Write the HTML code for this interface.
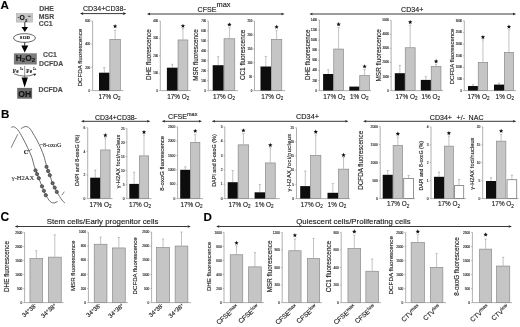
<!DOCTYPE html>
<html><head><meta charset="utf-8"><style>
html,body{margin:0;padding:0;background:#fff;width:520px;height:327px;overflow:hidden;}
svg{display:block;filter:grayscale(100%);}
text{stroke:rgba(20,20,20,0.55);stroke-width:0.22px;}
</style></head><body>
<svg width="520" height="327" viewBox="0 0 520 327">
<rect width="520" height="327" fill="#fff"/>
<text x="0.60" y="9.00" font-size="11.6" text-anchor="start" fill="#000" font-weight="bold" font-family='"Liberation Sans", sans-serif' >A</text>
<text x="1.00" y="118.40" font-size="11.6" text-anchor="start" fill="#000" font-weight="bold" font-family='"Liberation Sans", sans-serif' >B</text>
<text x="0.60" y="221.30" font-size="12.0" text-anchor="start" fill="#000" font-weight="bold" font-family='"Liberation Sans", sans-serif' >C</text>
<text x="203.60" y="221.00" font-size="11.6" text-anchor="start" fill="#000" font-weight="bold" font-family='"Liberation Sans", sans-serif' >D</text>
<rect x="16.3" y="13.6" width="16.3" height="8.5" fill="#c6c6c6" stroke="#a8a8a8" stroke-width="0.5"/>
<rect x="17.8" y="17.0" width="1.2" height="0.8" fill="#333"/>
<text x="19.45" y="20.0" font-size="6.8" font-weight="bold" fill="#0a0a0a" font-family='"Liberation Sans", sans-serif'>O</text>
<text x="24.9" y="21.6" font-size="4.2" font-weight="bold" fill="#111" font-family='"Liberation Sans", sans-serif'>2</text>
<line x1="28.10" y1="16.30" x2="30.60" y2="16.30" stroke="#333" stroke-width="0.9"/>
<line x1="24.80" y1="22.10" x2="24.80" y2="27.50" stroke="#333" stroke-width="1.0"/>
<polygon points="21.5,27.0 28.0,27.0 24.8,32.0" fill="#000"/>
<ellipse cx="24.5" cy="38.0" rx="11.0" ry="4.35" fill="#fff" stroke="#333" stroke-width="0.75"/>
<text x="25.0" y="39.0" font-size="4.7" text-anchor="middle" fill="#111" font-weight="bold" font-family='"Liberation Serif", serif' letter-spacing="0.3">SOD</text>
<line x1="24.70" y1="42.10" x2="24.70" y2="46.20" stroke="#333" stroke-width="1.0"/>
<polygon points="21.3,45.6 28.3,45.6 24.7,52.4" fill="#000"/>
<rect x="13.9" y="53.3" width="22.9" height="11.2" fill="#7c7c7c"/>
<text x="25.4" y="61.0" font-size="8.4" text-anchor="middle" font-weight="bold" fill="#1a1a1a" font-family='"Liberation Sans", sans-serif'>H<tspan font-size="6.2" dy="1.2">2</tspan><tspan dy="-1.2">O</tspan><tspan font-size="6.2" dy="1.2">2</tspan></text>
<line x1="24.70" y1="66.00" x2="24.70" y2="78.50" stroke="#8a8a8a" stroke-width="0.9"/>
<text x="12.8" y="72.6" font-size="5.2" fill="#222" font-family='"Liberation Serif", serif' font-weight="bold" letter-spacing="0.4">Fe</text>
<text x="19.9" y="70.0" font-size="3.0" fill="#222" font-family='"Liberation Serif", serif' font-weight="bold">3+</text>
<text x="26.2" y="72.6" font-size="5.2" fill="#222" font-family='"Liberation Serif", serif' font-weight="bold" letter-spacing="0.4">Fe</text>
<text x="33.0" y="70.0" font-size="3.0" fill="#222" font-family='"Liberation Serif", serif' font-weight="bold">2+</text>
<path d="M14.3,73.9 Q24.7,78.2 34.6,74.3" fill="none" stroke="#333" stroke-width="0.7"/>
<polygon points="36.4,73.8 33.4,73.8 34.6,75.9" fill="#222"/>
<polygon points="21.6,77.6 27.9,77.6 24.6,87.4" fill="#000"/>
<rect x="17.2" y="87.9" width="14.9" height="10.8" fill="#6a6a6a"/>
<text x="24.65" y="96.6" font-size="8.6" text-anchor="middle" font-weight="bold" fill="#111" font-family='"Liberation Sans", sans-serif'>OH</text>
<text x="39.20" y="11.20" font-size="6.9" text-anchor="start" fill="#555" font-weight="bold" font-family='"Liberation Sans", sans-serif' >DHE</text>
<text x="38.80" y="18.60" font-size="6.9" text-anchor="start" fill="#555" font-weight="bold" font-family='"Liberation Sans", sans-serif' >MSR</text>
<text x="38.80" y="26.20" font-size="6.9" text-anchor="start" fill="#555" font-weight="bold" font-family='"Liberation Sans", sans-serif' >CC1</text>
<text x="43.00" y="57.40" font-size="6.9" text-anchor="start" fill="#555" font-weight="bold" font-family='"Liberation Sans", sans-serif' >CC1</text>
<text x="39.00" y="65.60" font-size="6.9" text-anchor="start" fill="#555" font-weight="bold" font-family='"Liberation Sans", sans-serif' >DCFDA</text>
<text x="38.60" y="92.40" font-size="6.9" text-anchor="start" fill="#555" font-weight="bold" font-family='"Liberation Sans", sans-serif' >DCFDA</text>
<text x="104.40" y="10.90" font-size="7.1" text-anchor="middle" fill="#1a1a1a" font-weight="normal" font-family='"Liberation Sans", sans-serif' >CD34+CD38-</text>
<line x1="83.20" y1="13.60" x2="123.10" y2="13.60" stroke="#222" stroke-width="0.9"/>
<polygon points="80.00,13.60 83.20,12.30 83.20,14.90" fill="#222"/>
<polygon points="126.30,13.60 123.10,12.30 123.10,14.90" fill="#222"/>
<text x="197.6" y="11.8" font-size="7.1" fill="#1a1a1a" font-family='"Liberation Sans", sans-serif'>CFSE<tspan font-size="7.4" dy="-4.4">max</tspan></text>
<line x1="150.00" y1="14.00" x2="281.40" y2="14.00" stroke="#222" stroke-width="0.9"/>
<polygon points="146.80,14.00 150.00,12.70 150.00,15.30" fill="#222"/>
<polygon points="284.60,14.00 281.40,12.70 281.40,15.30" fill="#222"/>
<text x="412.20" y="12.10" font-size="7.1" text-anchor="middle" fill="#1a1a1a" font-weight="normal" font-family='"Liberation Sans", sans-serif' >CD34+</text>
<line x1="312.50" y1="14.00" x2="513.00" y2="14.00" stroke="#222" stroke-width="0.9"/>
<polygon points="309.30,14.00 312.50,12.70 312.50,15.30" fill="#222"/>
<polygon points="516.20,14.00 513.00,12.70 513.00,15.30" fill="#222"/>
<line x1="92.60" y1="21.00" x2="92.60" y2="90.60" stroke="#8f8f8f" stroke-width="0.7"/>
<line x1="92.60" y1="90.60" x2="123.50" y2="90.60" stroke="#8f8f8f" stroke-width="0.7"/>
<line x1="91.30" y1="90.60" x2="92.60" y2="90.60" stroke="#8f8f8f" stroke-width="0.6"/>
<text x="90.30" y="91.72" font-size="3.1" text-anchor="end" fill="#333" font-weight="normal" font-family='"Liberation Sans", sans-serif' >0</text>
<line x1="91.30" y1="67.40" x2="92.60" y2="67.40" stroke="#8f8f8f" stroke-width="0.6"/>
<text x="90.30" y="68.52" font-size="3.1" text-anchor="end" fill="#333" font-weight="normal" font-family='"Liberation Sans", sans-serif' >200</text>
<line x1="91.30" y1="44.20" x2="92.60" y2="44.20" stroke="#8f8f8f" stroke-width="0.6"/>
<text x="90.30" y="45.32" font-size="3.1" text-anchor="end" fill="#333" font-weight="normal" font-family='"Liberation Sans", sans-serif' >400</text>
<line x1="91.30" y1="21.00" x2="92.60" y2="21.00" stroke="#8f8f8f" stroke-width="0.6"/>
<text x="90.30" y="22.12" font-size="3.1" text-anchor="end" fill="#333" font-weight="normal" font-family='"Liberation Sans", sans-serif' >600</text>
<line x1="104.25" y1="67.60" x2="104.25" y2="72.70" stroke="#9a9a9a" stroke-width="0.6"/>
<line x1="103.15" y1="67.60" x2="105.35" y2="67.60" stroke="#9a9a9a" stroke-width="0.6"/>
<rect x="99.00" y="72.70" width="10.50" height="17.90" fill="#0d0d0d"/>
<line x1="115.10" y1="30.20" x2="115.10" y2="39.00" stroke="#9a9a9a" stroke-width="0.6"/>
<line x1="114.00" y1="30.20" x2="116.20" y2="30.20" stroke="#9a9a9a" stroke-width="0.6"/>
<rect x="109.85" y="39.35" width="10.50" height="51.25" fill="#c5c5c5" stroke="#8a8a8a" stroke-width="0.7"/>
<polygon points="115.10,24.00 115.71,25.46 117.29,25.59 116.08,26.62 116.45,28.16 115.10,27.34 113.75,28.16 114.12,26.62 112.91,25.59 114.49,25.46" fill="#111"/>
<text transform="translate(82.25,57.61) rotate(-90)" font-size="6.19" text-anchor="middle" fill="#1a1a1a" font-family='"Liberation Sans", sans-serif'>DCFDA fluorescence</text>
<text x="98.50" y="98.60" font-size="6.4" fill="#1a1a1a" font-family='"Liberation Sans", sans-serif'>17% O<tspan font-size="4.61" dy="1.6">2</tspan></text>
<line x1="160.30" y1="21.00" x2="160.30" y2="90.60" stroke="#8f8f8f" stroke-width="0.7"/>
<line x1="160.30" y1="90.60" x2="191.00" y2="90.60" stroke="#8f8f8f" stroke-width="0.7"/>
<line x1="159.00" y1="90.60" x2="160.30" y2="90.60" stroke="#8f8f8f" stroke-width="0.6"/>
<text x="158.00" y="91.61" font-size="2.8" text-anchor="end" fill="#333" font-weight="normal" font-family='"Liberation Sans", sans-serif' >0</text>
<line x1="159.00" y1="73.20" x2="160.30" y2="73.20" stroke="#8f8f8f" stroke-width="0.6"/>
<text x="158.00" y="74.21" font-size="2.8" text-anchor="end" fill="#333" font-weight="normal" font-family='"Liberation Sans", sans-serif' >100</text>
<line x1="159.00" y1="55.80" x2="160.30" y2="55.80" stroke="#8f8f8f" stroke-width="0.6"/>
<text x="158.00" y="56.81" font-size="2.8" text-anchor="end" fill="#333" font-weight="normal" font-family='"Liberation Sans", sans-serif' >200</text>
<line x1="159.00" y1="38.40" x2="160.30" y2="38.40" stroke="#8f8f8f" stroke-width="0.6"/>
<text x="158.00" y="39.41" font-size="2.8" text-anchor="end" fill="#333" font-weight="normal" font-family='"Liberation Sans", sans-serif' >300</text>
<line x1="159.00" y1="21.00" x2="160.30" y2="21.00" stroke="#8f8f8f" stroke-width="0.6"/>
<text x="158.00" y="22.01" font-size="2.8" text-anchor="end" fill="#333" font-weight="normal" font-family='"Liberation Sans", sans-serif' >400</text>
<line x1="172.30" y1="64.30" x2="172.30" y2="67.70" stroke="#9a9a9a" stroke-width="0.6"/>
<line x1="171.20" y1="64.30" x2="173.40" y2="64.30" stroke="#9a9a9a" stroke-width="0.6"/>
<rect x="166.90" y="67.70" width="10.80" height="22.90" fill="#0d0d0d"/>
<line x1="182.95" y1="28.60" x2="182.95" y2="39.60" stroke="#9a9a9a" stroke-width="0.6"/>
<line x1="181.85" y1="28.60" x2="184.05" y2="28.60" stroke="#9a9a9a" stroke-width="0.6"/>
<rect x="178.05" y="39.95" width="9.80" height="50.65" fill="#c5c5c5" stroke="#8a8a8a" stroke-width="0.7"/>
<polygon points="182.95,23.70 183.56,25.16 185.14,25.29 183.93,26.32 184.30,27.86 182.95,27.04 181.60,27.86 181.97,26.32 180.76,25.29 182.34,25.16" fill="#111"/>
<text transform="translate(150.75,54.65) rotate(-90)" font-size="6.32" text-anchor="middle" fill="#1a1a1a" font-family='"Liberation Sans", sans-serif'>DHE fluorescence</text>
<text x="167.20" y="98.60" font-size="6.4" fill="#1a1a1a" font-family='"Liberation Sans", sans-serif'>17% O<tspan font-size="4.61" dy="1.6">2</tspan></text>
<line x1="208.30" y1="21.00" x2="208.30" y2="90.60" stroke="#8f8f8f" stroke-width="0.7"/>
<line x1="208.30" y1="90.60" x2="238.00" y2="90.60" stroke="#8f8f8f" stroke-width="0.7"/>
<line x1="207.00" y1="90.60" x2="208.30" y2="90.60" stroke="#8f8f8f" stroke-width="0.6"/>
<text x="206.00" y="91.61" font-size="2.8" text-anchor="end" fill="#333" font-weight="normal" font-family='"Liberation Sans", sans-serif' >0</text>
<line x1="207.00" y1="80.66" x2="208.30" y2="80.66" stroke="#8f8f8f" stroke-width="0.6"/>
<text x="206.00" y="81.67" font-size="2.8" text-anchor="end" fill="#333" font-weight="normal" font-family='"Liberation Sans", sans-serif' >100</text>
<line x1="207.00" y1="70.71" x2="208.30" y2="70.71" stroke="#8f8f8f" stroke-width="0.6"/>
<text x="206.00" y="71.72" font-size="2.8" text-anchor="end" fill="#333" font-weight="normal" font-family='"Liberation Sans", sans-serif' >200</text>
<line x1="207.00" y1="60.77" x2="208.30" y2="60.77" stroke="#8f8f8f" stroke-width="0.6"/>
<text x="206.00" y="61.78" font-size="2.8" text-anchor="end" fill="#333" font-weight="normal" font-family='"Liberation Sans", sans-serif' >300</text>
<line x1="207.00" y1="50.83" x2="208.30" y2="50.83" stroke="#8f8f8f" stroke-width="0.6"/>
<text x="206.00" y="51.84" font-size="2.8" text-anchor="end" fill="#333" font-weight="normal" font-family='"Liberation Sans", sans-serif' >400</text>
<line x1="207.00" y1="40.89" x2="208.30" y2="40.89" stroke="#8f8f8f" stroke-width="0.6"/>
<text x="206.00" y="41.89" font-size="2.8" text-anchor="end" fill="#333" font-weight="normal" font-family='"Liberation Sans", sans-serif' >500</text>
<line x1="207.00" y1="30.94" x2="208.30" y2="30.94" stroke="#8f8f8f" stroke-width="0.6"/>
<text x="206.00" y="31.95" font-size="2.8" text-anchor="end" fill="#333" font-weight="normal" font-family='"Liberation Sans", sans-serif' >600</text>
<line x1="207.00" y1="21.00" x2="208.30" y2="21.00" stroke="#8f8f8f" stroke-width="0.6"/>
<text x="206.00" y="22.01" font-size="2.8" text-anchor="end" fill="#333" font-weight="normal" font-family='"Liberation Sans", sans-serif' >700</text>
<line x1="218.20" y1="56.70" x2="218.20" y2="65.20" stroke="#9a9a9a" stroke-width="0.6"/>
<line x1="217.10" y1="56.70" x2="219.30" y2="56.70" stroke="#9a9a9a" stroke-width="0.6"/>
<rect x="212.70" y="65.20" width="11.00" height="25.40" fill="#0d0d0d"/>
<line x1="229.40" y1="27.80" x2="229.40" y2="38.40" stroke="#9a9a9a" stroke-width="0.6"/>
<line x1="228.30" y1="27.80" x2="230.50" y2="27.80" stroke="#9a9a9a" stroke-width="0.6"/>
<rect x="224.05" y="38.75" width="10.70" height="51.85" fill="#c5c5c5" stroke="#8a8a8a" stroke-width="0.7"/>
<polygon points="229.40,22.40 230.01,23.86 231.59,23.99 230.38,25.02 230.75,26.56 229.40,25.73 228.05,26.56 228.42,25.02 227.21,23.99 228.79,23.86" fill="#111"/>
<text transform="translate(198.25,55.00) rotate(-90)" font-size="6.32" text-anchor="middle" fill="#1a1a1a" font-family='"Liberation Sans", sans-serif'>MSR fluorescence</text>
<text x="212.90" y="98.60" font-size="6.4" fill="#1a1a1a" font-family='"Liberation Sans", sans-serif'>17% O<tspan font-size="4.61" dy="1.6">2</tspan></text>
<line x1="254.50" y1="21.00" x2="254.50" y2="90.60" stroke="#8f8f8f" stroke-width="0.7"/>
<line x1="254.50" y1="90.60" x2="285.00" y2="90.60" stroke="#8f8f8f" stroke-width="0.7"/>
<line x1="253.20" y1="90.60" x2="254.50" y2="90.60" stroke="#8f8f8f" stroke-width="0.6"/>
<text x="252.20" y="91.61" font-size="2.8" text-anchor="end" fill="#333" font-weight="normal" font-family='"Liberation Sans", sans-serif' >0</text>
<line x1="253.20" y1="76.68" x2="254.50" y2="76.68" stroke="#8f8f8f" stroke-width="0.6"/>
<text x="252.20" y="77.69" font-size="2.8" text-anchor="end" fill="#333" font-weight="normal" font-family='"Liberation Sans", sans-serif' >50</text>
<line x1="253.20" y1="62.76" x2="254.50" y2="62.76" stroke="#8f8f8f" stroke-width="0.6"/>
<text x="252.20" y="63.77" font-size="2.8" text-anchor="end" fill="#333" font-weight="normal" font-family='"Liberation Sans", sans-serif' >100</text>
<line x1="253.20" y1="48.84" x2="254.50" y2="48.84" stroke="#8f8f8f" stroke-width="0.6"/>
<text x="252.20" y="49.85" font-size="2.8" text-anchor="end" fill="#333" font-weight="normal" font-family='"Liberation Sans", sans-serif' >150</text>
<line x1="253.20" y1="34.92" x2="254.50" y2="34.92" stroke="#8f8f8f" stroke-width="0.6"/>
<text x="252.20" y="35.93" font-size="2.8" text-anchor="end" fill="#333" font-weight="normal" font-family='"Liberation Sans", sans-serif' >200</text>
<line x1="253.20" y1="21.00" x2="254.50" y2="21.00" stroke="#8f8f8f" stroke-width="0.6"/>
<text x="252.20" y="22.01" font-size="2.8" text-anchor="end" fill="#333" font-weight="normal" font-family='"Liberation Sans", sans-serif' >250</text>
<line x1="265.80" y1="56.40" x2="265.80" y2="66.50" stroke="#9a9a9a" stroke-width="0.6"/>
<line x1="264.70" y1="56.40" x2="266.90" y2="56.40" stroke="#9a9a9a" stroke-width="0.6"/>
<rect x="260.50" y="66.50" width="10.60" height="24.10" fill="#0d0d0d"/>
<line x1="276.60" y1="30.30" x2="276.60" y2="39.00" stroke="#9a9a9a" stroke-width="0.6"/>
<line x1="275.50" y1="30.30" x2="277.70" y2="30.30" stroke="#9a9a9a" stroke-width="0.6"/>
<rect x="271.45" y="39.35" width="10.30" height="51.25" fill="#c5c5c5" stroke="#8a8a8a" stroke-width="0.7"/>
<polygon points="276.60,24.70 277.21,26.16 278.79,26.29 277.58,27.32 277.95,28.86 276.60,28.04 275.25,28.86 275.62,27.32 274.41,26.29 275.99,26.16" fill="#111"/>
<text transform="translate(244.75,54.86) rotate(-90)" font-size="6.35" text-anchor="middle" fill="#1a1a1a" font-family='"Liberation Sans", sans-serif'>CC1 fluorescence</text>
<text x="261.20" y="98.60" font-size="6.4" fill="#1a1a1a" font-family='"Liberation Sans", sans-serif'>17% O<tspan font-size="4.61" dy="1.6">2</tspan></text>
<line x1="319.40" y1="20.00" x2="319.40" y2="90.60" stroke="#8f8f8f" stroke-width="0.7"/>
<line x1="319.40" y1="90.60" x2="371.00" y2="90.60" stroke="#8f8f8f" stroke-width="0.7"/>
<line x1="318.10" y1="90.60" x2="319.40" y2="90.60" stroke="#8f8f8f" stroke-width="0.6"/>
<text x="317.10" y="91.61" font-size="2.8" text-anchor="end" fill="#333" font-weight="normal" font-family='"Liberation Sans", sans-serif' >0</text>
<line x1="318.10" y1="80.51" x2="319.40" y2="80.51" stroke="#8f8f8f" stroke-width="0.6"/>
<text x="317.10" y="81.52" font-size="2.8" text-anchor="end" fill="#333" font-weight="normal" font-family='"Liberation Sans", sans-serif' >200</text>
<line x1="318.10" y1="70.43" x2="319.40" y2="70.43" stroke="#8f8f8f" stroke-width="0.6"/>
<text x="317.10" y="71.44" font-size="2.8" text-anchor="end" fill="#333" font-weight="normal" font-family='"Liberation Sans", sans-serif' >400</text>
<line x1="318.10" y1="60.34" x2="319.40" y2="60.34" stroke="#8f8f8f" stroke-width="0.6"/>
<text x="317.10" y="61.35" font-size="2.8" text-anchor="end" fill="#333" font-weight="normal" font-family='"Liberation Sans", sans-serif' >600</text>
<line x1="318.10" y1="50.26" x2="319.40" y2="50.26" stroke="#8f8f8f" stroke-width="0.6"/>
<text x="317.10" y="51.27" font-size="2.8" text-anchor="end" fill="#333" font-weight="normal" font-family='"Liberation Sans", sans-serif' >800</text>
<line x1="318.10" y1="40.17" x2="319.40" y2="40.17" stroke="#8f8f8f" stroke-width="0.6"/>
<text x="317.10" y="41.18" font-size="2.8" text-anchor="end" fill="#333" font-weight="normal" font-family='"Liberation Sans", sans-serif' >1000</text>
<line x1="318.10" y1="30.09" x2="319.40" y2="30.09" stroke="#8f8f8f" stroke-width="0.6"/>
<text x="317.10" y="31.09" font-size="2.8" text-anchor="end" fill="#333" font-weight="normal" font-family='"Liberation Sans", sans-serif' >1200</text>
<line x1="318.10" y1="20.00" x2="319.40" y2="20.00" stroke="#8f8f8f" stroke-width="0.6"/>
<text x="317.10" y="21.01" font-size="2.8" text-anchor="end" fill="#333" font-weight="normal" font-family='"Liberation Sans", sans-serif' >1400</text>
<line x1="328.25" y1="69.80" x2="328.25" y2="74.00" stroke="#9a9a9a" stroke-width="0.6"/>
<line x1="327.15" y1="69.80" x2="329.35" y2="69.80" stroke="#9a9a9a" stroke-width="0.6"/>
<rect x="323.10" y="74.00" width="10.30" height="16.60" fill="#0d0d0d"/>
<line x1="338.60" y1="27.70" x2="338.60" y2="48.70" stroke="#9a9a9a" stroke-width="0.6"/>
<line x1="337.50" y1="27.70" x2="339.70" y2="27.70" stroke="#9a9a9a" stroke-width="0.6"/>
<rect x="333.75" y="49.05" width="9.70" height="41.55" fill="#c5c5c5" stroke="#8a8a8a" stroke-width="0.7"/>
<polygon points="338.60,22.10 339.21,23.56 340.79,23.69 339.58,24.72 339.95,26.26 338.60,25.43 337.25,26.26 337.62,24.72 336.41,23.69 337.99,23.56" fill="#111"/>
<rect x="349.30" y="86.60" width="10.10" height="4.00" fill="#0d0d0d"/>
<line x1="364.60" y1="69.30" x2="364.60" y2="75.20" stroke="#9a9a9a" stroke-width="0.6"/>
<line x1="363.50" y1="69.30" x2="365.70" y2="69.30" stroke="#9a9a9a" stroke-width="0.6"/>
<rect x="359.75" y="75.55" width="9.70" height="15.05" fill="#c5c5c5" stroke="#8a8a8a" stroke-width="0.7"/>
<polygon points="364.60,64.20 365.21,65.66 366.79,65.79 365.58,66.82 365.95,68.36 364.60,67.53 363.25,68.36 363.62,66.82 362.41,65.79 363.99,65.66" fill="#111"/>
<text transform="translate(310.25,54.85) rotate(-90)" font-size="6.27" text-anchor="middle" fill="#1a1a1a" font-family='"Liberation Sans", sans-serif'>DHE fluorescence</text>
<text x="323.30" y="98.60" font-size="6.4" fill="#1a1a1a" font-family='"Liberation Sans", sans-serif'>17% O<tspan font-size="4.61" dy="1.6">2</tspan></text>
<text x="349.90" y="98.60" font-size="6.4" fill="#1a1a1a" font-family='"Liberation Sans", sans-serif'>1% O<tspan font-size="4.61" dy="1.6">2</tspan></text>
<line x1="391.10" y1="20.30" x2="391.10" y2="90.60" stroke="#8f8f8f" stroke-width="0.7"/>
<line x1="391.10" y1="90.60" x2="443.00" y2="90.60" stroke="#8f8f8f" stroke-width="0.7"/>
<line x1="389.80" y1="90.60" x2="391.10" y2="90.60" stroke="#8f8f8f" stroke-width="0.6"/>
<text x="388.80" y="91.61" font-size="2.8" text-anchor="end" fill="#333" font-weight="normal" font-family='"Liberation Sans", sans-serif' >0</text>
<line x1="389.80" y1="76.54" x2="391.10" y2="76.54" stroke="#8f8f8f" stroke-width="0.6"/>
<text x="388.80" y="77.55" font-size="2.8" text-anchor="end" fill="#333" font-weight="normal" font-family='"Liberation Sans", sans-serif' >1000</text>
<line x1="389.80" y1="62.48" x2="391.10" y2="62.48" stroke="#8f8f8f" stroke-width="0.6"/>
<text x="388.80" y="63.49" font-size="2.8" text-anchor="end" fill="#333" font-weight="normal" font-family='"Liberation Sans", sans-serif' >2000</text>
<line x1="389.80" y1="48.42" x2="391.10" y2="48.42" stroke="#8f8f8f" stroke-width="0.6"/>
<text x="388.80" y="49.43" font-size="2.8" text-anchor="end" fill="#333" font-weight="normal" font-family='"Liberation Sans", sans-serif' >3000</text>
<line x1="389.80" y1="34.36" x2="391.10" y2="34.36" stroke="#8f8f8f" stroke-width="0.6"/>
<text x="388.80" y="35.37" font-size="2.8" text-anchor="end" fill="#333" font-weight="normal" font-family='"Liberation Sans", sans-serif' >4000</text>
<line x1="389.80" y1="20.30" x2="391.10" y2="20.30" stroke="#8f8f8f" stroke-width="0.6"/>
<text x="388.80" y="21.31" font-size="2.8" text-anchor="end" fill="#333" font-weight="normal" font-family='"Liberation Sans", sans-serif' >5000</text>
<line x1="399.85" y1="65.50" x2="399.85" y2="73.20" stroke="#9a9a9a" stroke-width="0.6"/>
<line x1="398.75" y1="65.50" x2="400.95" y2="65.50" stroke="#9a9a9a" stroke-width="0.6"/>
<rect x="394.80" y="73.20" width="10.10" height="17.40" fill="#0d0d0d"/>
<line x1="410.20" y1="25.20" x2="410.20" y2="47.40" stroke="#9a9a9a" stroke-width="0.6"/>
<line x1="409.10" y1="25.20" x2="411.30" y2="25.20" stroke="#9a9a9a" stroke-width="0.6"/>
<rect x="405.25" y="47.75" width="9.90" height="42.85" fill="#c5c5c5" stroke="#8a8a8a" stroke-width="0.7"/>
<polygon points="410.20,19.90 410.81,21.36 412.39,21.49 411.18,22.52 411.55,24.06 410.20,23.23 408.85,24.06 409.22,22.52 408.01,21.49 409.59,21.36" fill="#111"/>
<line x1="425.85" y1="76.60" x2="425.85" y2="79.90" stroke="#9a9a9a" stroke-width="0.6"/>
<line x1="424.75" y1="76.60" x2="426.95" y2="76.60" stroke="#9a9a9a" stroke-width="0.6"/>
<rect x="420.80" y="79.90" width="10.10" height="10.70" fill="#0d0d0d"/>
<line x1="436.10" y1="64.30" x2="436.10" y2="66.00" stroke="#9a9a9a" stroke-width="0.6"/>
<line x1="435.00" y1="64.30" x2="437.20" y2="64.30" stroke="#9a9a9a" stroke-width="0.6"/>
<rect x="431.25" y="66.35" width="9.70" height="24.25" fill="#c5c5c5" stroke="#8a8a8a" stroke-width="0.7"/>
<polygon points="436.10,59.10 436.71,60.56 438.29,60.69 437.08,61.72 437.45,63.26 436.10,62.43 434.75,63.26 435.12,61.72 433.91,60.69 435.49,60.56" fill="#111"/>
<text transform="translate(380.75,55.35) rotate(-90)" font-size="6.40" text-anchor="middle" fill="#1a1a1a" font-family='"Liberation Sans", sans-serif'>MSR fluorescence</text>
<text x="395.50" y="98.60" font-size="6.4" fill="#1a1a1a" font-family='"Liberation Sans", sans-serif'>17% O<tspan font-size="4.61" dy="1.6">2</tspan></text>
<text x="421.50" y="98.60" font-size="6.4" fill="#1a1a1a" font-family='"Liberation Sans", sans-serif'>1% O<tspan font-size="4.61" dy="1.6">2</tspan></text>
<line x1="464.30" y1="20.80" x2="464.30" y2="90.60" stroke="#8f8f8f" stroke-width="0.7"/>
<line x1="464.30" y1="90.60" x2="516.00" y2="90.60" stroke="#8f8f8f" stroke-width="0.7"/>
<line x1="463.00" y1="90.60" x2="464.30" y2="90.60" stroke="#8f8f8f" stroke-width="0.6"/>
<text x="462.00" y="91.61" font-size="2.8" text-anchor="end" fill="#333" font-weight="normal" font-family='"Liberation Sans", sans-serif' >0</text>
<line x1="463.00" y1="78.97" x2="464.30" y2="78.97" stroke="#8f8f8f" stroke-width="0.6"/>
<text x="462.00" y="79.97" font-size="2.8" text-anchor="end" fill="#333" font-weight="normal" font-family='"Liberation Sans", sans-serif' >500</text>
<line x1="463.00" y1="67.33" x2="464.30" y2="67.33" stroke="#8f8f8f" stroke-width="0.6"/>
<text x="462.00" y="68.34" font-size="2.8" text-anchor="end" fill="#333" font-weight="normal" font-family='"Liberation Sans", sans-serif' >1000</text>
<line x1="463.00" y1="55.70" x2="464.30" y2="55.70" stroke="#8f8f8f" stroke-width="0.6"/>
<text x="462.00" y="56.71" font-size="2.8" text-anchor="end" fill="#333" font-weight="normal" font-family='"Liberation Sans", sans-serif' >1500</text>
<line x1="463.00" y1="44.07" x2="464.30" y2="44.07" stroke="#8f8f8f" stroke-width="0.6"/>
<text x="462.00" y="45.07" font-size="2.8" text-anchor="end" fill="#333" font-weight="normal" font-family='"Liberation Sans", sans-serif' >2000</text>
<line x1="463.00" y1="32.43" x2="464.30" y2="32.43" stroke="#8f8f8f" stroke-width="0.6"/>
<text x="462.00" y="33.44" font-size="2.8" text-anchor="end" fill="#333" font-weight="normal" font-family='"Liberation Sans", sans-serif' >2500</text>
<line x1="463.00" y1="20.80" x2="464.30" y2="20.80" stroke="#8f8f8f" stroke-width="0.6"/>
<text x="462.00" y="21.81" font-size="2.8" text-anchor="end" fill="#333" font-weight="normal" font-family='"Liberation Sans", sans-serif' >3000</text>
<line x1="472.95" y1="84.60" x2="472.95" y2="86.00" stroke="#9a9a9a" stroke-width="0.6"/>
<line x1="471.85" y1="84.60" x2="474.05" y2="84.60" stroke="#9a9a9a" stroke-width="0.6"/>
<rect x="468.00" y="86.00" width="9.90" height="4.60" fill="#0d0d0d"/>
<line x1="482.95" y1="39.80" x2="482.95" y2="62.10" stroke="#9a9a9a" stroke-width="0.6"/>
<line x1="481.85" y1="39.80" x2="484.05" y2="39.80" stroke="#9a9a9a" stroke-width="0.6"/>
<rect x="478.25" y="62.45" width="9.40" height="28.15" fill="#c5c5c5" stroke="#8a8a8a" stroke-width="0.7"/>
<polygon points="482.95,34.90 483.56,36.36 485.14,36.49 483.93,37.52 484.30,39.06 482.95,38.23 481.60,39.06 481.97,37.52 480.76,36.49 482.34,36.36" fill="#111"/>
<line x1="499.00" y1="83.20" x2="499.00" y2="84.60" stroke="#9a9a9a" stroke-width="0.6"/>
<line x1="497.90" y1="83.20" x2="500.10" y2="83.20" stroke="#9a9a9a" stroke-width="0.6"/>
<rect x="494.00" y="84.60" width="10.00" height="6.00" fill="#0d0d0d"/>
<line x1="508.95" y1="29.80" x2="508.95" y2="52.00" stroke="#9a9a9a" stroke-width="0.6"/>
<line x1="507.85" y1="29.80" x2="510.05" y2="29.80" stroke="#9a9a9a" stroke-width="0.6"/>
<rect x="504.35" y="52.35" width="9.20" height="38.25" fill="#c5c5c5" stroke="#8a8a8a" stroke-width="0.7"/>
<polygon points="508.95,24.50 509.56,25.96 511.14,26.09 509.93,27.12 510.30,28.66 508.95,27.84 507.60,28.66 507.97,27.12 506.76,26.09 508.34,25.96" fill="#111"/>
<text transform="translate(454.25,56.46) rotate(-90)" font-size="5.94" text-anchor="middle" fill="#1a1a1a" font-family='"Liberation Sans", sans-serif'>DCFDA fluorescence</text>
<text x="467.40" y="98.60" font-size="6.4" fill="#1a1a1a" font-family='"Liberation Sans", sans-serif'>17% O<tspan font-size="4.61" dy="1.6">2</tspan></text>
<text x="495.60" y="98.60" font-size="6.4" fill="#1a1a1a" font-family='"Liberation Sans", sans-serif'>1% O<tspan font-size="4.61" dy="1.6">2</tspan></text>
<path d="M11.10,127.60 C11.52,127.47 12.48,126.43 13.60,126.80 C14.72,127.17 16.28,127.95 17.80,129.80 C19.32,131.65 21.07,134.92 22.70,137.90 C24.33,140.88 26.07,144.43 27.60,147.70 C29.13,150.97 30.78,154.37 31.90,157.50 C33.02,160.63 33.45,163.78 34.30,166.50 C35.15,169.22 36.13,171.55 37.00,173.80 C37.87,176.05 38.67,177.88 39.50,180.00 C40.33,182.12 40.98,184.08 42.00,186.50 C43.02,188.92 44.65,192.55 45.60,194.50 C46.55,196.45 46.88,196.98 47.70,198.20 C48.52,199.42 49.45,201.00 50.50,201.80 C51.55,202.60 52.82,203.07 54.00,203.00 C55.18,202.93 57.00,201.67 57.60,201.40" fill="none" stroke="#4a4a4a" stroke-width="0.8"/>
<path d="M20.80,128.80 C21.52,128.43 23.67,126.72 25.10,126.60 C26.53,126.48 27.87,126.62 29.40,128.10 C30.93,129.58 32.67,132.75 34.30,135.50 C35.93,138.25 37.67,141.35 39.20,144.60 C40.73,147.85 42.45,152.10 43.50,155.00 C44.55,157.90 44.85,159.72 45.50,162.00 C46.15,164.28 46.68,166.57 47.40,168.70 C48.12,170.83 49.00,172.50 49.80,174.80 C50.60,177.10 51.33,180.27 52.20,182.50 C53.07,184.73 54.12,186.45 55.00,188.20 C55.88,189.95 56.72,191.60 57.50,193.00 C58.28,194.40 58.87,195.30 59.70,196.60 C60.53,197.90 61.63,199.73 62.50,200.80 C63.37,201.87 64.50,202.63 64.90,203.00" fill="none" stroke="#4a4a4a" stroke-width="0.8"/>
<line x1="11.10" y1="147.70" x2="17.80" y2="134.20" stroke="#555" stroke-width="0.75"/>
<line x1="61.80" y1="195.20" x2="64.30" y2="191.70" stroke="#555" stroke-width="0.75"/>
<text x="23.7" y="154.1" font-size="6.2" fill="#111" font-family='"Liberation Serif", serif' font-weight="bold">C</text>
<line x1="27.60" y1="151.40" x2="31.90" y2="149.20" stroke="#333" stroke-width="0.6"/>
<text x="42.9" y="146.8" font-size="6.1" fill="#333" font-family='"Liberation Serif", serif'>8-oxoG</text>
<line x1="40.00" y1="144.60" x2="42.90" y2="144.60" stroke="#444" stroke-width="0.6"/>
<text x="11.8" y="179.6" font-size="6.5" fill="#333" font-family='"Liberation Serif", serif'>γ-H2AX</text>
<circle cx="35.5" cy="170.4" r="1.65" fill="#6a6a6a" stroke="#2a2a2a" stroke-width="0.6"/>
<circle cx="37.1" cy="174.1" r="1.65" fill="#6a6a6a" stroke="#2a2a2a" stroke-width="0.6"/>
<circle cx="38.8" cy="178.2" r="1.65" fill="#6a6a6a" stroke="#2a2a2a" stroke-width="0.6"/>
<circle cx="42.0" cy="186.3" r="1.65" fill="#6a6a6a" stroke="#2a2a2a" stroke-width="0.6"/>
<circle cx="43.9" cy="190.8" r="1.65" fill="#6a6a6a" stroke="#2a2a2a" stroke-width="0.6"/>
<circle cx="45.8" cy="195.2" r="1.65" fill="#6a6a6a" stroke="#2a2a2a" stroke-width="0.6"/>
<circle cx="46.5" cy="166.8" r="1.65" fill="#6a6a6a" stroke="#2a2a2a" stroke-width="0.6"/>
<circle cx="48.1" cy="171.0" r="1.65" fill="#6a6a6a" stroke="#2a2a2a" stroke-width="0.6"/>
<circle cx="49.8" cy="175.2" r="1.65" fill="#6a6a6a" stroke="#2a2a2a" stroke-width="0.6"/>
<circle cx="52.6" cy="183.2" r="1.65" fill="#6a6a6a" stroke="#2a2a2a" stroke-width="0.6"/>
<circle cx="54.7" cy="187.6" r="1.65" fill="#6a6a6a" stroke="#2a2a2a" stroke-width="0.6"/>
<circle cx="56.8" cy="191.9" r="1.65" fill="#6a6a6a" stroke="#2a2a2a" stroke-width="0.6"/>
<text x="116.00" y="119.80" font-size="6.95" text-anchor="middle" fill="#1a1a1a" font-weight="normal" font-family='"Liberation Sans", sans-serif' >CD34+CD38-</text>
<line x1="84.20" y1="121.30" x2="147.20" y2="121.30" stroke="#222" stroke-width="0.9"/>
<polygon points="81.00,121.30 84.20,120.00 84.20,122.60" fill="#222"/>
<polygon points="150.40,121.30 147.20,120.00 147.20,122.60" fill="#222"/>
<text x="168.1" y="119.3" font-size="7.1" fill="#1a1a1a" font-family='"Liberation Sans", sans-serif'>CFSE<tspan font-size="5.5" dy="-3.6">max</tspan></text>
<line x1="164.90" y1="121.30" x2="198.80" y2="121.30" stroke="#222" stroke-width="0.9"/>
<polygon points="161.70,121.30 164.90,120.00 164.90,122.60" fill="#222"/>
<polygon points="202.00,121.30 198.80,120.00 198.80,122.60" fill="#222"/>
<text x="307.50" y="119.30" font-size="7.3" text-anchor="middle" fill="#1a1a1a" font-weight="normal" font-family='"Liberation Sans", sans-serif' >CD34+</text>
<line x1="214.90" y1="121.30" x2="345.30" y2="121.30" stroke="#222" stroke-width="0.9"/>
<polygon points="211.70,121.30 214.90,120.00 214.90,122.60" fill="#222"/>
<polygon points="348.50,121.30 345.30,120.00 345.30,122.60" fill="#222"/>
<text x="429.80" y="119.80" font-size="7.05" text-anchor="start" fill="#1a1a1a" font-weight="normal" font-family='"Liberation Sans", sans-serif' >CD34+</text>
<text x="456.60" y="119.80" font-size="7.05" text-anchor="start" fill="#1a1a1a" font-weight="normal" font-family='"Liberation Sans", sans-serif' >+/-</text>
<text x="468.60" y="119.80" font-size="7.05" text-anchor="start" fill="#1a1a1a" font-weight="normal" font-family='"Liberation Sans", sans-serif' >NAC</text>
<line x1="366.30" y1="121.30" x2="513.10" y2="121.30" stroke="#222" stroke-width="0.9"/>
<polygon points="363.10,121.30 366.30,120.00 366.30,122.60" fill="#222"/>
<polygon points="516.30,121.30 513.10,120.00 513.10,122.60" fill="#222"/>
<line x1="87.70" y1="127.70" x2="87.70" y2="198.60" stroke="#8f8f8f" stroke-width="0.7"/>
<line x1="87.70" y1="198.60" x2="112.50" y2="198.60" stroke="#8f8f8f" stroke-width="0.7"/>
<line x1="86.40" y1="198.60" x2="87.70" y2="198.60" stroke="#8f8f8f" stroke-width="0.6"/>
<text x="85.40" y="199.79" font-size="3.3" text-anchor="end" fill="#333" font-weight="normal" font-family='"Liberation Sans", sans-serif' >0</text>
<line x1="86.40" y1="174.97" x2="87.70" y2="174.97" stroke="#8f8f8f" stroke-width="0.6"/>
<text x="85.40" y="176.15" font-size="3.3" text-anchor="end" fill="#333" font-weight="normal" font-family='"Liberation Sans", sans-serif' >2</text>
<line x1="86.40" y1="151.33" x2="87.70" y2="151.33" stroke="#8f8f8f" stroke-width="0.6"/>
<text x="85.40" y="152.52" font-size="3.3" text-anchor="end" fill="#333" font-weight="normal" font-family='"Liberation Sans", sans-serif' >4</text>
<line x1="86.40" y1="127.70" x2="87.70" y2="127.70" stroke="#8f8f8f" stroke-width="0.6"/>
<text x="85.40" y="128.89" font-size="3.3" text-anchor="end" fill="#333" font-weight="normal" font-family='"Liberation Sans", sans-serif' >6</text>
<line x1="95.25" y1="170.10" x2="95.25" y2="177.70" stroke="#9a9a9a" stroke-width="0.6"/>
<line x1="94.15" y1="170.10" x2="96.35" y2="170.10" stroke="#9a9a9a" stroke-width="0.6"/>
<rect x="90.20" y="177.70" width="10.10" height="20.90" fill="#0d0d0d"/>
<line x1="105.35" y1="137.80" x2="105.35" y2="149.60" stroke="#9a9a9a" stroke-width="0.6"/>
<line x1="104.25" y1="137.80" x2="106.45" y2="137.80" stroke="#9a9a9a" stroke-width="0.6"/>
<rect x="100.65" y="149.95" width="9.40" height="48.65" fill="#c5c5c5" stroke="#8a8a8a" stroke-width="0.7"/>
<polygon points="105.35,133.00 105.96,134.46 107.54,134.59 106.33,135.62 106.70,137.16 105.35,136.34 104.00,137.16 104.37,135.62 103.16,134.59 104.74,134.46" fill="#111"/>
<text transform="translate(78.85,160.40) rotate(-90)" font-size="5.32" text-anchor="middle" fill="#1a1a1a" font-family='"Liberation Sans", sans-serif'>DAPI and 8-oxoG (%)</text>
<text x="89.50" y="206.60" font-size="6.4" fill="#1a1a1a" font-family='"Liberation Sans", sans-serif'>17% O<tspan font-size="4.61" dy="1.6">2</tspan></text>
<line x1="126.90" y1="128.40" x2="126.90" y2="198.60" stroke="#8f8f8f" stroke-width="0.7"/>
<line x1="126.90" y1="198.60" x2="151.50" y2="198.60" stroke="#8f8f8f" stroke-width="0.7"/>
<line x1="125.60" y1="198.60" x2="126.90" y2="198.60" stroke="#8f8f8f" stroke-width="0.6"/>
<text x="124.60" y="199.79" font-size="3.3" text-anchor="end" fill="#333" font-weight="normal" font-family='"Liberation Sans", sans-serif' >0</text>
<line x1="125.60" y1="184.56" x2="126.90" y2="184.56" stroke="#8f8f8f" stroke-width="0.6"/>
<text x="124.60" y="185.75" font-size="3.3" text-anchor="end" fill="#333" font-weight="normal" font-family='"Liberation Sans", sans-serif' >5</text>
<line x1="125.60" y1="170.52" x2="126.90" y2="170.52" stroke="#8f8f8f" stroke-width="0.6"/>
<text x="124.60" y="171.71" font-size="3.3" text-anchor="end" fill="#333" font-weight="normal" font-family='"Liberation Sans", sans-serif' >10</text>
<line x1="125.60" y1="156.48" x2="126.90" y2="156.48" stroke="#8f8f8f" stroke-width="0.6"/>
<text x="124.60" y="157.67" font-size="3.3" text-anchor="end" fill="#333" font-weight="normal" font-family='"Liberation Sans", sans-serif' >15</text>
<line x1="125.60" y1="142.44" x2="126.90" y2="142.44" stroke="#8f8f8f" stroke-width="0.6"/>
<text x="124.60" y="143.63" font-size="3.3" text-anchor="end" fill="#333" font-weight="normal" font-family='"Liberation Sans", sans-serif' >20</text>
<line x1="125.60" y1="128.40" x2="126.90" y2="128.40" stroke="#8f8f8f" stroke-width="0.6"/>
<text x="124.60" y="129.59" font-size="3.3" text-anchor="end" fill="#333" font-weight="normal" font-family='"Liberation Sans", sans-serif' >25</text>
<line x1="134.10" y1="172.20" x2="134.10" y2="183.90" stroke="#9a9a9a" stroke-width="0.6"/>
<line x1="133.00" y1="172.20" x2="135.20" y2="172.20" stroke="#9a9a9a" stroke-width="0.6"/>
<rect x="129.30" y="183.90" width="9.60" height="14.70" fill="#0d0d0d"/>
<line x1="144.00" y1="135.00" x2="144.00" y2="155.50" stroke="#9a9a9a" stroke-width="0.6"/>
<line x1="142.90" y1="135.00" x2="145.10" y2="135.00" stroke="#9a9a9a" stroke-width="0.6"/>
<rect x="139.35" y="155.85" width="9.30" height="42.75" fill="#c5c5c5" stroke="#8a8a8a" stroke-width="0.7"/>
<polygon points="144.00,129.90 144.61,131.36 146.19,131.49 144.98,132.52 145.35,134.06 144.00,133.23 142.65,134.06 143.02,132.52 141.81,131.49 143.39,131.36" fill="#111"/>
<text transform="translate(120.25,188.30) rotate(-90)" font-size="5.60" fill="#1a1a1a" font-family='"Liberation Sans", sans-serif' textLength="53.72" lengthAdjust="spacing">γ-H2AX foci/nucleus</text>
<text x="129.00" y="206.60" font-size="6.4" fill="#1a1a1a" font-family='"Liberation Sans", sans-serif'>17% O<tspan font-size="4.61" dy="1.6">2</tspan></text>
<line x1="177.60" y1="126.80" x2="177.60" y2="198.60" stroke="#8f8f8f" stroke-width="0.7"/>
<line x1="177.60" y1="198.60" x2="203.00" y2="198.60" stroke="#8f8f8f" stroke-width="0.7"/>
<line x1="176.30" y1="198.60" x2="177.60" y2="198.60" stroke="#8f8f8f" stroke-width="0.6"/>
<text x="175.30" y="199.79" font-size="3.3" text-anchor="end" fill="#333" font-weight="normal" font-family='"Liberation Sans", sans-serif' >0</text>
<line x1="176.30" y1="184.24" x2="177.60" y2="184.24" stroke="#8f8f8f" stroke-width="0.6"/>
<text x="175.30" y="185.43" font-size="3.3" text-anchor="end" fill="#333" font-weight="normal" font-family='"Liberation Sans", sans-serif' >500</text>
<line x1="176.30" y1="169.88" x2="177.60" y2="169.88" stroke="#8f8f8f" stroke-width="0.6"/>
<text x="175.30" y="171.07" font-size="3.3" text-anchor="end" fill="#333" font-weight="normal" font-family='"Liberation Sans", sans-serif' >1000</text>
<line x1="176.30" y1="155.52" x2="177.60" y2="155.52" stroke="#8f8f8f" stroke-width="0.6"/>
<text x="175.30" y="156.71" font-size="3.3" text-anchor="end" fill="#333" font-weight="normal" font-family='"Liberation Sans", sans-serif' >1500</text>
<line x1="176.30" y1="141.16" x2="177.60" y2="141.16" stroke="#8f8f8f" stroke-width="0.6"/>
<text x="175.30" y="142.35" font-size="3.3" text-anchor="end" fill="#333" font-weight="normal" font-family='"Liberation Sans", sans-serif' >2000</text>
<line x1="176.30" y1="126.80" x2="177.60" y2="126.80" stroke="#8f8f8f" stroke-width="0.6"/>
<text x="175.30" y="127.99" font-size="3.3" text-anchor="end" fill="#333" font-weight="normal" font-family='"Liberation Sans", sans-serif' >2500</text>
<line x1="185.25" y1="166.80" x2="185.25" y2="169.80" stroke="#9a9a9a" stroke-width="0.6"/>
<line x1="184.15" y1="166.80" x2="186.35" y2="166.80" stroke="#9a9a9a" stroke-width="0.6"/>
<rect x="180.20" y="169.80" width="10.10" height="28.80" fill="#0d0d0d"/>
<line x1="195.25" y1="134.40" x2="195.25" y2="142.00" stroke="#9a9a9a" stroke-width="0.6"/>
<line x1="194.15" y1="134.40" x2="196.35" y2="134.40" stroke="#9a9a9a" stroke-width="0.6"/>
<rect x="190.65" y="142.35" width="9.20" height="56.25" fill="#c5c5c5" stroke="#8a8a8a" stroke-width="0.7"/>
<polygon points="195.25,128.70 195.86,130.16 197.44,130.29 196.23,131.32 196.60,132.86 195.25,132.03 193.90,132.86 194.27,131.32 193.06,130.29 194.64,130.16" fill="#111"/>
<text transform="translate(164.15,163.31) rotate(-90)" font-size="5.94" text-anchor="middle" fill="#1a1a1a" font-family='"Liberation Sans", sans-serif'>8-oxoG fluorescence</text>
<text x="180.40" y="206.60" font-size="6.4" fill="#1a1a1a" font-family='"Liberation Sans", sans-serif'>17% O<tspan font-size="4.61" dy="1.6">2</tspan></text>
<line x1="224.80" y1="126.80" x2="224.80" y2="198.60" stroke="#8f8f8f" stroke-width="0.7"/>
<line x1="224.80" y1="198.60" x2="279.80" y2="198.60" stroke="#8f8f8f" stroke-width="0.7"/>
<line x1="223.50" y1="198.60" x2="224.80" y2="198.60" stroke="#8f8f8f" stroke-width="0.6"/>
<text x="222.50" y="199.79" font-size="3.3" text-anchor="end" fill="#333" font-weight="normal" font-family='"Liberation Sans", sans-serif' >0</text>
<line x1="223.50" y1="184.24" x2="224.80" y2="184.24" stroke="#8f8f8f" stroke-width="0.6"/>
<text x="222.50" y="185.43" font-size="3.3" text-anchor="end" fill="#333" font-weight="normal" font-family='"Liberation Sans", sans-serif' >1</text>
<line x1="223.50" y1="169.88" x2="224.80" y2="169.88" stroke="#8f8f8f" stroke-width="0.6"/>
<text x="222.50" y="171.07" font-size="3.3" text-anchor="end" fill="#333" font-weight="normal" font-family='"Liberation Sans", sans-serif' >2</text>
<line x1="223.50" y1="155.52" x2="224.80" y2="155.52" stroke="#8f8f8f" stroke-width="0.6"/>
<text x="222.50" y="156.71" font-size="3.3" text-anchor="end" fill="#333" font-weight="normal" font-family='"Liberation Sans", sans-serif' >3</text>
<line x1="223.50" y1="141.16" x2="224.80" y2="141.16" stroke="#8f8f8f" stroke-width="0.6"/>
<text x="222.50" y="142.35" font-size="3.3" text-anchor="end" fill="#333" font-weight="normal" font-family='"Liberation Sans", sans-serif' >4</text>
<line x1="223.50" y1="126.80" x2="224.80" y2="126.80" stroke="#8f8f8f" stroke-width="0.6"/>
<text x="222.50" y="127.99" font-size="3.3" text-anchor="end" fill="#333" font-weight="normal" font-family='"Liberation Sans", sans-serif' >5</text>
<line x1="232.75" y1="170.50" x2="232.75" y2="182.20" stroke="#9a9a9a" stroke-width="0.6"/>
<line x1="231.65" y1="170.50" x2="233.85" y2="170.50" stroke="#9a9a9a" stroke-width="0.6"/>
<rect x="227.70" y="182.20" width="10.10" height="16.40" fill="#0d0d0d"/>
<line x1="243.40" y1="133.60" x2="243.40" y2="144.50" stroke="#9a9a9a" stroke-width="0.6"/>
<line x1="242.30" y1="133.60" x2="244.50" y2="133.60" stroke="#9a9a9a" stroke-width="0.6"/>
<rect x="238.15" y="144.85" width="10.50" height="53.75" fill="#c5c5c5" stroke="#8a8a8a" stroke-width="0.7"/>
<polygon points="243.40,128.20 244.01,129.66 245.59,129.79 244.38,130.82 244.75,132.36 243.40,131.53 242.05,132.36 242.42,130.82 241.21,129.79 242.79,129.66" fill="#111"/>
<line x1="259.80" y1="184.40" x2="259.80" y2="192.30" stroke="#9a9a9a" stroke-width="0.6"/>
<line x1="258.70" y1="184.40" x2="260.90" y2="184.40" stroke="#9a9a9a" stroke-width="0.6"/>
<rect x="254.60" y="192.30" width="10.40" height="6.30" fill="#0d0d0d"/>
<line x1="270.30" y1="147.80" x2="270.30" y2="162.60" stroke="#9a9a9a" stroke-width="0.6"/>
<line x1="269.20" y1="147.80" x2="271.40" y2="147.80" stroke="#9a9a9a" stroke-width="0.6"/>
<rect x="265.35" y="162.95" width="9.90" height="35.65" fill="#c5c5c5" stroke="#8a8a8a" stroke-width="0.7"/>
<polygon points="270.30,142.90 270.91,144.36 272.49,144.49 271.28,145.52 271.65,147.06 270.30,146.23 268.95,147.06 269.32,145.52 268.11,144.49 269.69,144.36" fill="#111"/>
<text transform="translate(215.55,160.55) rotate(-90)" font-size="5.45" text-anchor="middle" fill="#1a1a1a" font-family='"Liberation Sans", sans-serif'>DAPI and 8-oxoG (%)</text>
<text x="228.40" y="206.60" font-size="6.4" fill="#1a1a1a" font-family='"Liberation Sans", sans-serif'>17% O<tspan font-size="4.61" dy="1.6">2</tspan></text>
<text x="255.10" y="206.60" font-size="6.4" fill="#1a1a1a" font-family='"Liberation Sans", sans-serif'>1% O<tspan font-size="4.61" dy="1.6">2</tspan></text>
<line x1="296.50" y1="127.70" x2="296.50" y2="198.60" stroke="#8f8f8f" stroke-width="0.7"/>
<line x1="296.50" y1="198.60" x2="350.00" y2="198.60" stroke="#8f8f8f" stroke-width="0.7"/>
<line x1="295.20" y1="198.60" x2="296.50" y2="198.60" stroke="#8f8f8f" stroke-width="0.6"/>
<text x="294.20" y="199.79" font-size="3.3" text-anchor="end" fill="#333" font-weight="normal" font-family='"Liberation Sans", sans-serif' >0</text>
<line x1="295.20" y1="184.42" x2="296.50" y2="184.42" stroke="#8f8f8f" stroke-width="0.6"/>
<text x="294.20" y="185.61" font-size="3.3" text-anchor="end" fill="#333" font-weight="normal" font-family='"Liberation Sans", sans-serif' >5</text>
<line x1="295.20" y1="170.24" x2="296.50" y2="170.24" stroke="#8f8f8f" stroke-width="0.6"/>
<text x="294.20" y="171.43" font-size="3.3" text-anchor="end" fill="#333" font-weight="normal" font-family='"Liberation Sans", sans-serif' >10</text>
<line x1="295.20" y1="156.06" x2="296.50" y2="156.06" stroke="#8f8f8f" stroke-width="0.6"/>
<text x="294.20" y="157.25" font-size="3.3" text-anchor="end" fill="#333" font-weight="normal" font-family='"Liberation Sans", sans-serif' >15</text>
<line x1="295.20" y1="141.88" x2="296.50" y2="141.88" stroke="#8f8f8f" stroke-width="0.6"/>
<text x="294.20" y="143.07" font-size="3.3" text-anchor="end" fill="#333" font-weight="normal" font-family='"Liberation Sans", sans-serif' >20</text>
<line x1="295.20" y1="127.70" x2="296.50" y2="127.70" stroke="#8f8f8f" stroke-width="0.6"/>
<text x="294.20" y="128.89" font-size="3.3" text-anchor="end" fill="#333" font-weight="normal" font-family='"Liberation Sans", sans-serif' >25</text>
<line x1="305.25" y1="171.00" x2="305.25" y2="186.10" stroke="#9a9a9a" stroke-width="0.6"/>
<line x1="304.15" y1="171.00" x2="306.35" y2="171.00" stroke="#9a9a9a" stroke-width="0.6"/>
<rect x="300.20" y="186.10" width="10.10" height="12.50" fill="#0d0d0d"/>
<line x1="315.75" y1="135.00" x2="315.75" y2="155.00" stroke="#9a9a9a" stroke-width="0.6"/>
<line x1="314.65" y1="135.00" x2="316.85" y2="135.00" stroke="#9a9a9a" stroke-width="0.6"/>
<rect x="310.65" y="155.35" width="10.20" height="43.25" fill="#c5c5c5" stroke="#8a8a8a" stroke-width="0.7"/>
<polygon points="315.75,129.60 316.36,131.06 317.94,131.19 316.73,132.22 317.10,133.76 315.75,132.94 314.40,133.76 314.77,132.22 313.56,131.19 315.14,131.06" fill="#111"/>
<line x1="332.80" y1="183.60" x2="332.80" y2="192.80" stroke="#9a9a9a" stroke-width="0.6"/>
<line x1="331.70" y1="183.60" x2="333.90" y2="183.60" stroke="#9a9a9a" stroke-width="0.6"/>
<rect x="327.50" y="192.80" width="10.60" height="5.80" fill="#0d0d0d"/>
<line x1="343.55" y1="157.60" x2="343.55" y2="168.80" stroke="#9a9a9a" stroke-width="0.6"/>
<line x1="342.45" y1="157.60" x2="344.65" y2="157.60" stroke="#9a9a9a" stroke-width="0.6"/>
<rect x="338.45" y="169.15" width="10.20" height="29.45" fill="#c5c5c5" stroke="#8a8a8a" stroke-width="0.7"/>
<polygon points="343.55,152.80 344.16,154.26 345.74,154.39 344.53,155.42 344.90,156.96 343.55,156.13 342.20,156.96 342.57,155.42 341.36,154.39 342.94,154.26" fill="#111"/>
<text transform="translate(290.75,191.50) rotate(-90)" font-size="5.60" fill="#1a1a1a" font-family='"Liberation Sans", sans-serif' textLength="57.52" lengthAdjust="spacing">γ-H2AX foci/nucleus</text>
<text x="300.80" y="206.60" font-size="6.4" fill="#1a1a1a" font-family='"Liberation Sans", sans-serif'>17% O<tspan font-size="4.61" dy="1.6">2</tspan></text>
<text x="327.70" y="206.60" font-size="6.4" fill="#1a1a1a" font-family='"Liberation Sans", sans-serif'>1% O<tspan font-size="4.61" dy="1.6">2</tspan></text>
<line x1="380.20" y1="126.50" x2="380.20" y2="198.60" stroke="#8f8f8f" stroke-width="0.7"/>
<line x1="380.20" y1="198.60" x2="415.00" y2="198.60" stroke="#8f8f8f" stroke-width="0.7"/>
<line x1="378.90" y1="198.60" x2="380.20" y2="198.60" stroke="#8f8f8f" stroke-width="0.6"/>
<text x="377.90" y="199.79" font-size="3.3" text-anchor="end" fill="#333" font-weight="normal" font-family='"Liberation Sans", sans-serif' >0</text>
<line x1="378.90" y1="180.57" x2="380.20" y2="180.57" stroke="#8f8f8f" stroke-width="0.6"/>
<text x="377.90" y="181.76" font-size="3.3" text-anchor="end" fill="#333" font-weight="normal" font-family='"Liberation Sans", sans-serif' >500</text>
<line x1="378.90" y1="162.55" x2="380.20" y2="162.55" stroke="#8f8f8f" stroke-width="0.6"/>
<text x="377.90" y="163.74" font-size="3.3" text-anchor="end" fill="#333" font-weight="normal" font-family='"Liberation Sans", sans-serif' >1000</text>
<line x1="378.90" y1="144.53" x2="380.20" y2="144.53" stroke="#8f8f8f" stroke-width="0.6"/>
<text x="377.90" y="145.71" font-size="3.3" text-anchor="end" fill="#333" font-weight="normal" font-family='"Liberation Sans", sans-serif' >1500</text>
<line x1="378.90" y1="126.50" x2="380.20" y2="126.50" stroke="#8f8f8f" stroke-width="0.6"/>
<text x="377.90" y="127.69" font-size="3.3" text-anchor="end" fill="#333" font-weight="normal" font-family='"Liberation Sans", sans-serif' >2000</text>
<line x1="387.75" y1="170.50" x2="387.75" y2="174.80" stroke="#9a9a9a" stroke-width="0.6"/>
<line x1="386.65" y1="170.50" x2="388.85" y2="170.50" stroke="#9a9a9a" stroke-width="0.6"/>
<rect x="382.70" y="174.80" width="10.10" height="23.80" fill="#0d0d0d"/>
<line x1="397.85" y1="137.00" x2="397.85" y2="145.00" stroke="#9a9a9a" stroke-width="0.6"/>
<line x1="396.75" y1="137.00" x2="398.95" y2="137.00" stroke="#9a9a9a" stroke-width="0.6"/>
<rect x="393.15" y="145.35" width="9.40" height="53.25" fill="#c5c5c5" stroke="#8a8a8a" stroke-width="0.7"/>
<polygon points="397.85,131.60 398.46,133.06 400.04,133.19 398.83,134.22 399.20,135.76 397.85,134.94 396.50,135.76 396.87,134.22 395.66,133.19 397.24,133.06" fill="#111"/>
<line x1="408.60" y1="175.50" x2="408.60" y2="178.20" stroke="#9a9a9a" stroke-width="0.6"/>
<line x1="407.50" y1="175.50" x2="409.70" y2="175.50" stroke="#9a9a9a" stroke-width="0.6"/>
<rect x="403.75" y="178.55" width="9.70" height="20.05" fill="#fff" stroke="#666" stroke-width="0.7"/>
<text transform="translate(362.75,160.31) rotate(-90)" font-size="6.34" text-anchor="middle" fill="#1a1a1a" font-family='"Liberation Sans", sans-serif'>DCFDA fluorescence</text>
<text x="387.10" y="206.00" font-size="6.4" fill="#1a1a1a" font-family='"Liberation Sans", sans-serif'>17% O<tspan font-size="4.61" dy="1.6">2</tspan></text>
<line x1="431.00" y1="126.80" x2="431.00" y2="198.60" stroke="#8f8f8f" stroke-width="0.7"/>
<line x1="431.00" y1="198.60" x2="466.00" y2="198.60" stroke="#8f8f8f" stroke-width="0.7"/>
<line x1="429.70" y1="198.60" x2="431.00" y2="198.60" stroke="#8f8f8f" stroke-width="0.6"/>
<text x="428.70" y="199.79" font-size="3.3" text-anchor="end" fill="#333" font-weight="normal" font-family='"Liberation Sans", sans-serif' >0</text>
<line x1="429.70" y1="180.65" x2="431.00" y2="180.65" stroke="#8f8f8f" stroke-width="0.6"/>
<text x="428.70" y="181.84" font-size="3.3" text-anchor="end" fill="#333" font-weight="normal" font-family='"Liberation Sans", sans-serif' >1</text>
<line x1="429.70" y1="162.70" x2="431.00" y2="162.70" stroke="#8f8f8f" stroke-width="0.6"/>
<text x="428.70" y="163.89" font-size="3.3" text-anchor="end" fill="#333" font-weight="normal" font-family='"Liberation Sans", sans-serif' >2</text>
<line x1="429.70" y1="144.75" x2="431.00" y2="144.75" stroke="#8f8f8f" stroke-width="0.6"/>
<text x="428.70" y="145.94" font-size="3.3" text-anchor="end" fill="#333" font-weight="normal" font-family='"Liberation Sans", sans-serif' >3</text>
<line x1="429.70" y1="126.80" x2="431.00" y2="126.80" stroke="#8f8f8f" stroke-width="0.6"/>
<text x="428.70" y="127.99" font-size="3.3" text-anchor="end" fill="#333" font-weight="normal" font-family='"Liberation Sans", sans-serif' >4</text>
<line x1="439.05" y1="172.10" x2="439.05" y2="176.80" stroke="#9a9a9a" stroke-width="0.6"/>
<line x1="437.95" y1="172.10" x2="440.15" y2="172.10" stroke="#9a9a9a" stroke-width="0.6"/>
<rect x="434.00" y="176.80" width="10.10" height="21.80" fill="#0d0d0d"/>
<line x1="448.90" y1="136.00" x2="448.90" y2="145.80" stroke="#9a9a9a" stroke-width="0.6"/>
<line x1="447.80" y1="136.00" x2="450.00" y2="136.00" stroke="#9a9a9a" stroke-width="0.6"/>
<rect x="444.45" y="146.15" width="8.90" height="52.45" fill="#c5c5c5" stroke="#8a8a8a" stroke-width="0.7"/>
<polygon points="448.90,130.90 449.51,132.36 451.09,132.49 449.88,133.52 450.25,135.06 448.90,134.23 447.55,135.06 447.92,133.52 446.71,132.49 448.29,132.36" fill="#111"/>
<line x1="459.05" y1="179.40" x2="459.05" y2="185.30" stroke="#9a9a9a" stroke-width="0.6"/>
<line x1="457.95" y1="179.40" x2="460.15" y2="179.40" stroke="#9a9a9a" stroke-width="0.6"/>
<rect x="454.35" y="185.65" width="9.40" height="12.95" fill="#fff" stroke="#666" stroke-width="0.7"/>
<text transform="translate(423.15,165.70) rotate(-90)" font-size="5.11" text-anchor="middle" fill="#1a1a1a" font-family='"Liberation Sans", sans-serif'>DAPI and 8-oxoG (%)</text>
<text x="437.90" y="206.00" font-size="6.4" fill="#1a1a1a" font-family='"Liberation Sans", sans-serif'>17% O<tspan font-size="4.61" dy="1.6">2</tspan></text>
<line x1="482.70" y1="126.80" x2="482.70" y2="198.60" stroke="#8f8f8f" stroke-width="0.7"/>
<line x1="482.70" y1="198.60" x2="518.50" y2="198.60" stroke="#8f8f8f" stroke-width="0.7"/>
<line x1="481.40" y1="198.60" x2="482.70" y2="198.60" stroke="#8f8f8f" stroke-width="0.6"/>
<text x="480.40" y="199.79" font-size="3.3" text-anchor="end" fill="#333" font-weight="normal" font-family='"Liberation Sans", sans-serif' >0</text>
<line x1="481.40" y1="180.65" x2="482.70" y2="180.65" stroke="#8f8f8f" stroke-width="0.6"/>
<text x="480.40" y="181.84" font-size="3.3" text-anchor="end" fill="#333" font-weight="normal" font-family='"Liberation Sans", sans-serif' >5</text>
<line x1="481.40" y1="162.70" x2="482.70" y2="162.70" stroke="#8f8f8f" stroke-width="0.6"/>
<text x="480.40" y="163.89" font-size="3.3" text-anchor="end" fill="#333" font-weight="normal" font-family='"Liberation Sans", sans-serif' >10</text>
<line x1="481.40" y1="144.75" x2="482.70" y2="144.75" stroke="#8f8f8f" stroke-width="0.6"/>
<text x="480.40" y="145.94" font-size="3.3" text-anchor="end" fill="#333" font-weight="normal" font-family='"Liberation Sans", sans-serif' >15</text>
<line x1="481.40" y1="126.80" x2="482.70" y2="126.80" stroke="#8f8f8f" stroke-width="0.6"/>
<text x="480.40" y="127.99" font-size="3.3" text-anchor="end" fill="#333" font-weight="normal" font-family='"Liberation Sans", sans-serif' >20</text>
<line x1="491.05" y1="177.70" x2="491.05" y2="181.00" stroke="#9a9a9a" stroke-width="0.6"/>
<line x1="489.95" y1="177.70" x2="492.15" y2="177.70" stroke="#9a9a9a" stroke-width="0.6"/>
<rect x="486.00" y="181.00" width="10.10" height="17.60" fill="#0d0d0d"/>
<line x1="501.15" y1="134.40" x2="501.15" y2="140.80" stroke="#9a9a9a" stroke-width="0.6"/>
<line x1="500.05" y1="134.40" x2="502.25" y2="134.40" stroke="#9a9a9a" stroke-width="0.6"/>
<rect x="496.45" y="141.15" width="9.40" height="57.45" fill="#c5c5c5" stroke="#8a8a8a" stroke-width="0.7"/>
<polygon points="501.15,128.70 501.76,130.16 503.34,130.29 502.13,131.32 502.50,132.86 501.15,132.03 499.80,132.86 500.17,131.32 498.96,130.29 500.54,130.16" fill="#111"/>
<line x1="511.90" y1="175.20" x2="511.90" y2="179.40" stroke="#9a9a9a" stroke-width="0.6"/>
<line x1="510.80" y1="175.20" x2="513.00" y2="175.20" stroke="#9a9a9a" stroke-width="0.6"/>
<rect x="507.05" y="179.75" width="9.70" height="18.85" fill="#fff" stroke="#666" stroke-width="0.7"/>
<text transform="translate(474.25,189.70) rotate(-90)" font-size="5.60" fill="#1a1a1a" font-family='"Liberation Sans", sans-serif' textLength="52.12" lengthAdjust="spacing">γ-H2AX foci/nucleus</text>
<text x="491.80" y="206.00" font-size="6.4" fill="#1a1a1a" font-family='"Liberation Sans", sans-serif'>17% O<tspan font-size="4.61" dy="1.6">2</tspan></text>
<text x="46.80" y="224.30" font-size="7.85" text-anchor="start" fill="#1a1a1a" font-weight="normal" font-family='"Liberation Sans", sans-serif' >Stem cells/Early progenitor cells</text>
<line x1="17.90" y1="226.50" x2="187.60" y2="226.50" stroke="#222" stroke-width="0.9"/>
<polygon points="14.70,226.50 17.90,225.20 17.90,227.80" fill="#222"/>
<polygon points="190.80,226.50 187.60,225.20 187.60,227.80" fill="#222"/>
<text x="296.30" y="224.30" font-size="7.8" text-anchor="start" fill="#1a1a1a" font-weight="normal" font-family='"Liberation Sans", sans-serif' >Quiescent cells/Proliferating cells</text>
<line x1="219.30" y1="226.50" x2="508.70" y2="226.50" stroke="#222" stroke-width="0.9"/>
<polygon points="216.10,226.50 219.30,225.20 219.30,227.80" fill="#222"/>
<polygon points="511.90,226.50 508.70,225.20 508.70,227.80" fill="#222"/>
<line x1="24.60" y1="232.40" x2="24.60" y2="302.60" stroke="#8f8f8f" stroke-width="0.7"/>
<line x1="24.60" y1="302.60" x2="63.60" y2="302.60" stroke="#8f8f8f" stroke-width="0.7"/>
<line x1="23.30" y1="302.60" x2="24.60" y2="302.60" stroke="#8f8f8f" stroke-width="0.6"/>
<text x="22.30" y="303.75" font-size="3.2" text-anchor="end" fill="#333" font-weight="normal" font-family='"Liberation Sans", sans-serif' >0</text>
<line x1="23.30" y1="288.56" x2="24.60" y2="288.56" stroke="#8f8f8f" stroke-width="0.6"/>
<text x="22.30" y="289.71" font-size="3.2" text-anchor="end" fill="#333" font-weight="normal" font-family='"Liberation Sans", sans-serif' >500</text>
<line x1="23.30" y1="274.52" x2="24.60" y2="274.52" stroke="#8f8f8f" stroke-width="0.6"/>
<text x="22.30" y="275.67" font-size="3.2" text-anchor="end" fill="#333" font-weight="normal" font-family='"Liberation Sans", sans-serif' >1000</text>
<line x1="23.30" y1="260.48" x2="24.60" y2="260.48" stroke="#8f8f8f" stroke-width="0.6"/>
<text x="22.30" y="261.63" font-size="3.2" text-anchor="end" fill="#333" font-weight="normal" font-family='"Liberation Sans", sans-serif' >1500</text>
<line x1="23.30" y1="246.44" x2="24.60" y2="246.44" stroke="#8f8f8f" stroke-width="0.6"/>
<text x="22.30" y="247.59" font-size="3.2" text-anchor="end" fill="#333" font-weight="normal" font-family='"Liberation Sans", sans-serif' >2000</text>
<line x1="23.30" y1="232.40" x2="24.60" y2="232.40" stroke="#8f8f8f" stroke-width="0.6"/>
<text x="22.30" y="233.55" font-size="3.2" text-anchor="end" fill="#333" font-weight="normal" font-family='"Liberation Sans", sans-serif' >2500</text>
<line x1="36.30" y1="250.70" x2="36.30" y2="258.10" stroke="#9a9a9a" stroke-width="0.6"/>
<line x1="35.20" y1="250.70" x2="37.40" y2="250.70" stroke="#9a9a9a" stroke-width="0.6"/>
<rect x="29.95" y="258.45" width="12.70" height="44.15" fill="#c5c5c5" stroke="#8a8a8a" stroke-width="0.7"/>
<line x1="54.80" y1="234.80" x2="54.80" y2="256.80" stroke="#9a9a9a" stroke-width="0.6"/>
<line x1="53.70" y1="234.80" x2="55.90" y2="234.80" stroke="#9a9a9a" stroke-width="0.6"/>
<rect x="48.35" y="257.15" width="12.90" height="45.45" fill="#c5c5c5" stroke="#8a8a8a" stroke-width="0.7"/>
<text transform="translate(8.85,266.45) rotate(-90)" font-size="6.34" text-anchor="middle" fill="#1a1a1a" font-family='"Liberation Sans", sans-serif'>DHE fluorescence</text>
<text transform="translate(37.00,306.00) rotate(-42)" font-size="6.0" text-anchor="end" fill="#1a1a1a" font-family='"Liberation Sans", sans-serif'>34<tspan font-size="4.20" dy="-1.6">+</tspan><tspan dy="1.6">38</tspan><tspan font-size="4.20" dy="-1.6">-</tspan></text>
<text transform="translate(56.80,306.00) rotate(-42)" font-size="6.0" text-anchor="end" fill="#1a1a1a" font-family='"Liberation Sans", sans-serif'>34<tspan font-size="4.20" dy="-1.6">+</tspan><tspan dy="1.6">38</tspan><tspan font-size="4.20" dy="-1.6">+</tspan></text>
<line x1="88.40" y1="232.00" x2="88.40" y2="302.60" stroke="#8f8f8f" stroke-width="0.7"/>
<line x1="88.40" y1="302.60" x2="128.00" y2="302.60" stroke="#8f8f8f" stroke-width="0.7"/>
<line x1="87.10" y1="302.60" x2="88.40" y2="302.60" stroke="#8f8f8f" stroke-width="0.6"/>
<text x="86.10" y="303.75" font-size="3.2" text-anchor="end" fill="#333" font-weight="normal" font-family='"Liberation Sans", sans-serif' >0</text>
<line x1="87.10" y1="288.48" x2="88.40" y2="288.48" stroke="#8f8f8f" stroke-width="0.6"/>
<text x="86.10" y="289.63" font-size="3.2" text-anchor="end" fill="#333" font-weight="normal" font-family='"Liberation Sans", sans-serif' >200</text>
<line x1="87.10" y1="274.36" x2="88.40" y2="274.36" stroke="#8f8f8f" stroke-width="0.6"/>
<text x="86.10" y="275.51" font-size="3.2" text-anchor="end" fill="#333" font-weight="normal" font-family='"Liberation Sans", sans-serif' >400</text>
<line x1="87.10" y1="260.24" x2="88.40" y2="260.24" stroke="#8f8f8f" stroke-width="0.6"/>
<text x="86.10" y="261.39" font-size="3.2" text-anchor="end" fill="#333" font-weight="normal" font-family='"Liberation Sans", sans-serif' >600</text>
<line x1="87.10" y1="246.12" x2="88.40" y2="246.12" stroke="#8f8f8f" stroke-width="0.6"/>
<text x="86.10" y="247.27" font-size="3.2" text-anchor="end" fill="#333" font-weight="normal" font-family='"Liberation Sans", sans-serif' >800</text>
<line x1="87.10" y1="232.00" x2="88.40" y2="232.00" stroke="#8f8f8f" stroke-width="0.6"/>
<text x="86.10" y="233.15" font-size="3.2" text-anchor="end" fill="#333" font-weight="normal" font-family='"Liberation Sans", sans-serif' >1000</text>
<line x1="100.60" y1="237.10" x2="100.60" y2="243.90" stroke="#9a9a9a" stroke-width="0.6"/>
<line x1="99.50" y1="237.10" x2="101.70" y2="237.10" stroke="#9a9a9a" stroke-width="0.6"/>
<rect x="94.25" y="244.25" width="12.70" height="58.35" fill="#c5c5c5" stroke="#8a8a8a" stroke-width="0.7"/>
<line x1="118.90" y1="237.50" x2="118.90" y2="247.60" stroke="#9a9a9a" stroke-width="0.6"/>
<line x1="117.80" y1="237.50" x2="120.00" y2="237.50" stroke="#9a9a9a" stroke-width="0.6"/>
<rect x="112.55" y="247.95" width="12.70" height="54.65" fill="#c5c5c5" stroke="#8a8a8a" stroke-width="0.7"/>
<text transform="translate(74.75,265.85) rotate(-90)" font-size="6.18" text-anchor="middle" fill="#1a1a1a" font-family='"Liberation Sans", sans-serif'>MSR fluorescence</text>
<text transform="translate(101.30,306.00) rotate(-42)" font-size="6.0" text-anchor="end" fill="#1a1a1a" font-family='"Liberation Sans", sans-serif'>34<tspan font-size="4.20" dy="-1.6">+</tspan><tspan dy="1.6">38</tspan><tspan font-size="4.20" dy="-1.6">-</tspan></text>
<text transform="translate(124.20,306.00) rotate(-42)" font-size="6.0" text-anchor="end" fill="#1a1a1a" font-family='"Liberation Sans", sans-serif'>34<tspan font-size="4.20" dy="-1.6">+</tspan><tspan dy="1.6">38</tspan><tspan font-size="4.20" dy="-1.6">+</tspan></text>
<line x1="151.60" y1="232.00" x2="151.60" y2="302.60" stroke="#8f8f8f" stroke-width="0.7"/>
<line x1="151.60" y1="302.60" x2="191.00" y2="302.60" stroke="#8f8f8f" stroke-width="0.7"/>
<line x1="150.30" y1="302.60" x2="151.60" y2="302.60" stroke="#8f8f8f" stroke-width="0.6"/>
<text x="149.30" y="303.75" font-size="3.2" text-anchor="end" fill="#333" font-weight="normal" font-family='"Liberation Sans", sans-serif' >0</text>
<line x1="150.30" y1="288.48" x2="151.60" y2="288.48" stroke="#8f8f8f" stroke-width="0.6"/>
<text x="149.30" y="289.63" font-size="3.2" text-anchor="end" fill="#333" font-weight="normal" font-family='"Liberation Sans", sans-serif' >500</text>
<line x1="150.30" y1="274.36" x2="151.60" y2="274.36" stroke="#8f8f8f" stroke-width="0.6"/>
<text x="149.30" y="275.51" font-size="3.2" text-anchor="end" fill="#333" font-weight="normal" font-family='"Liberation Sans", sans-serif' >1000</text>
<line x1="150.30" y1="260.24" x2="151.60" y2="260.24" stroke="#8f8f8f" stroke-width="0.6"/>
<text x="149.30" y="261.39" font-size="3.2" text-anchor="end" fill="#333" font-weight="normal" font-family='"Liberation Sans", sans-serif' >1500</text>
<line x1="150.30" y1="246.12" x2="151.60" y2="246.12" stroke="#8f8f8f" stroke-width="0.6"/>
<text x="149.30" y="247.27" font-size="3.2" text-anchor="end" fill="#333" font-weight="normal" font-family='"Liberation Sans", sans-serif' >2000</text>
<line x1="150.30" y1="232.00" x2="151.60" y2="232.00" stroke="#8f8f8f" stroke-width="0.6"/>
<text x="149.30" y="233.15" font-size="3.2" text-anchor="end" fill="#333" font-weight="normal" font-family='"Liberation Sans", sans-serif' >2500</text>
<line x1="163.05" y1="239.00" x2="163.05" y2="247.20" stroke="#9a9a9a" stroke-width="0.6"/>
<line x1="161.95" y1="239.00" x2="164.15" y2="239.00" stroke="#9a9a9a" stroke-width="0.6"/>
<rect x="156.55" y="247.55" width="13.00" height="55.05" fill="#c5c5c5" stroke="#8a8a8a" stroke-width="0.7"/>
<line x1="181.50" y1="232.00" x2="181.50" y2="245.70" stroke="#9a9a9a" stroke-width="0.6"/>
<line x1="180.40" y1="232.00" x2="182.60" y2="232.00" stroke="#9a9a9a" stroke-width="0.6"/>
<rect x="175.15" y="246.05" width="12.70" height="56.55" fill="#c5c5c5" stroke="#8a8a8a" stroke-width="0.7"/>
<text transform="translate(137.15,265.86) rotate(-90)" font-size="6.13" text-anchor="middle" fill="#1a1a1a" font-family='"Liberation Sans", sans-serif'>DCFDA fluorescence</text>
<text transform="translate(163.80,306.00) rotate(-42)" font-size="6.0" text-anchor="end" fill="#1a1a1a" font-family='"Liberation Sans", sans-serif'>34<tspan font-size="4.20" dy="-1.6">+</tspan><tspan dy="1.6">38</tspan><tspan font-size="4.20" dy="-1.6">-</tspan></text>
<text transform="translate(184.40,306.00) rotate(-42)" font-size="6.0" text-anchor="end" fill="#1a1a1a" font-family='"Liberation Sans", sans-serif'>34<tspan font-size="4.20" dy="-1.6">+</tspan><tspan dy="1.6">38</tspan><tspan font-size="4.20" dy="-1.6">+</tspan></text>
<line x1="224.00" y1="232.40" x2="224.00" y2="302.60" stroke="#8f8f8f" stroke-width="0.7"/>
<line x1="224.00" y1="302.60" x2="264.00" y2="302.60" stroke="#8f8f8f" stroke-width="0.7"/>
<line x1="222.70" y1="302.60" x2="224.00" y2="302.60" stroke="#8f8f8f" stroke-width="0.6"/>
<text x="221.70" y="303.75" font-size="3.2" text-anchor="end" fill="#333" font-weight="normal" font-family='"Liberation Sans", sans-serif' >0</text>
<line x1="222.70" y1="288.56" x2="224.00" y2="288.56" stroke="#8f8f8f" stroke-width="0.6"/>
<text x="221.70" y="289.71" font-size="3.2" text-anchor="end" fill="#333" font-weight="normal" font-family='"Liberation Sans", sans-serif' >200</text>
<line x1="222.70" y1="274.52" x2="224.00" y2="274.52" stroke="#8f8f8f" stroke-width="0.6"/>
<text x="221.70" y="275.67" font-size="3.2" text-anchor="end" fill="#333" font-weight="normal" font-family='"Liberation Sans", sans-serif' >400</text>
<line x1="222.70" y1="260.48" x2="224.00" y2="260.48" stroke="#8f8f8f" stroke-width="0.6"/>
<text x="221.70" y="261.63" font-size="3.2" text-anchor="end" fill="#333" font-weight="normal" font-family='"Liberation Sans", sans-serif' >600</text>
<line x1="222.70" y1="246.44" x2="224.00" y2="246.44" stroke="#8f8f8f" stroke-width="0.6"/>
<text x="221.70" y="247.59" font-size="3.2" text-anchor="end" fill="#333" font-weight="normal" font-family='"Liberation Sans", sans-serif' >800</text>
<line x1="222.70" y1="232.40" x2="224.00" y2="232.40" stroke="#8f8f8f" stroke-width="0.6"/>
<text x="221.70" y="233.55" font-size="3.2" text-anchor="end" fill="#333" font-weight="normal" font-family='"Liberation Sans", sans-serif' >1000</text>
<line x1="236.50" y1="245.80" x2="236.50" y2="254.40" stroke="#9a9a9a" stroke-width="0.6"/>
<line x1="235.40" y1="245.80" x2="237.60" y2="245.80" stroke="#9a9a9a" stroke-width="0.6"/>
<rect x="230.25" y="254.75" width="12.50" height="47.85" fill="#c5c5c5" stroke="#8a8a8a" stroke-width="0.7"/>
<polygon points="236.50,240.70 237.11,242.16 238.69,242.29 237.48,243.32 237.85,244.86 236.50,244.03 235.15,244.86 235.52,243.32 234.31,242.29 235.89,242.16" fill="#111"/>
<line x1="254.95" y1="252.70" x2="254.95" y2="266.50" stroke="#9a9a9a" stroke-width="0.6"/>
<line x1="253.85" y1="252.70" x2="256.05" y2="252.70" stroke="#9a9a9a" stroke-width="0.6"/>
<rect x="248.65" y="266.85" width="12.60" height="35.75" fill="#c5c5c5" stroke="#8a8a8a" stroke-width="0.7"/>
<text transform="translate(210.75,266.45) rotate(-90)" font-size="6.12" text-anchor="middle" fill="#1a1a1a" font-family='"Liberation Sans", sans-serif'>DHE fluorescence</text>
<text transform="translate(238.80,307.60) rotate(-41)" font-size="6.6" text-anchor="end" fill="#1a1a1a" font-family='"Liberation Sans", sans-serif'>CFSE<tspan font-size="4.75" dy="-2.4">max</tspan></text>
<text transform="translate(259.30,307.60) rotate(-41)" font-size="6.6" text-anchor="end" fill="#1a1a1a" font-family='"Liberation Sans", sans-serif'>CFSE<tspan font-size="4.75" dy="-2.4">low</tspan></text>
<line x1="282.20" y1="232.40" x2="282.20" y2="302.60" stroke="#8f8f8f" stroke-width="0.7"/>
<line x1="282.20" y1="302.60" x2="322.00" y2="302.60" stroke="#8f8f8f" stroke-width="0.7"/>
<line x1="280.90" y1="302.60" x2="282.20" y2="302.60" stroke="#8f8f8f" stroke-width="0.6"/>
<text x="279.90" y="303.75" font-size="3.2" text-anchor="end" fill="#333" font-weight="normal" font-family='"Liberation Sans", sans-serif' >0</text>
<line x1="280.90" y1="285.05" x2="282.20" y2="285.05" stroke="#8f8f8f" stroke-width="0.6"/>
<text x="279.90" y="286.20" font-size="3.2" text-anchor="end" fill="#333" font-weight="normal" font-family='"Liberation Sans", sans-serif' >300</text>
<line x1="280.90" y1="267.50" x2="282.20" y2="267.50" stroke="#8f8f8f" stroke-width="0.6"/>
<text x="279.90" y="268.65" font-size="3.2" text-anchor="end" fill="#333" font-weight="normal" font-family='"Liberation Sans", sans-serif' >600</text>
<line x1="280.90" y1="249.95" x2="282.20" y2="249.95" stroke="#8f8f8f" stroke-width="0.6"/>
<text x="279.90" y="251.10" font-size="3.2" text-anchor="end" fill="#333" font-weight="normal" font-family='"Liberation Sans", sans-serif' >900</text>
<line x1="280.90" y1="232.40" x2="282.20" y2="232.40" stroke="#8f8f8f" stroke-width="0.6"/>
<text x="279.90" y="233.55" font-size="3.2" text-anchor="end" fill="#333" font-weight="normal" font-family='"Liberation Sans", sans-serif' >1200</text>
<line x1="294.90" y1="239.00" x2="294.90" y2="250.40" stroke="#9a9a9a" stroke-width="0.6"/>
<line x1="293.80" y1="239.00" x2="296.00" y2="239.00" stroke="#9a9a9a" stroke-width="0.6"/>
<rect x="288.75" y="250.75" width="12.30" height="51.85" fill="#c5c5c5" stroke="#8a8a8a" stroke-width="0.7"/>
<polygon points="294.90,233.00 295.51,234.46 297.09,234.59 295.88,235.62 296.25,237.16 294.90,236.34 293.55,237.16 293.92,235.62 292.71,234.59 294.29,234.46" fill="#111"/>
<line x1="313.50" y1="238.40" x2="313.50" y2="258.20" stroke="#9a9a9a" stroke-width="0.6"/>
<line x1="312.40" y1="238.40" x2="314.60" y2="238.40" stroke="#9a9a9a" stroke-width="0.6"/>
<rect x="307.35" y="258.55" width="12.30" height="44.05" fill="#c5c5c5" stroke="#8a8a8a" stroke-width="0.7"/>
<text transform="translate(271.85,266.40) rotate(-90)" font-size="6.32" text-anchor="middle" fill="#1a1a1a" font-family='"Liberation Sans", sans-serif'>MSR fluorescence</text>
<text transform="translate(297.70,307.60) rotate(-41)" font-size="6.6" text-anchor="end" fill="#1a1a1a" font-family='"Liberation Sans", sans-serif'>CFSE<tspan font-size="4.75" dy="-2.4">max</tspan></text>
<text transform="translate(317.50,307.60) rotate(-41)" font-size="6.6" text-anchor="end" fill="#1a1a1a" font-family='"Liberation Sans", sans-serif'>CFSE<tspan font-size="4.75" dy="-2.4">low</tspan></text>
<line x1="341.20" y1="232.40" x2="341.20" y2="302.60" stroke="#8f8f8f" stroke-width="0.7"/>
<line x1="341.20" y1="302.60" x2="381.00" y2="302.60" stroke="#8f8f8f" stroke-width="0.7"/>
<line x1="339.90" y1="302.60" x2="341.20" y2="302.60" stroke="#8f8f8f" stroke-width="0.6"/>
<text x="338.90" y="303.75" font-size="3.2" text-anchor="end" fill="#333" font-weight="normal" font-family='"Liberation Sans", sans-serif' >0</text>
<line x1="339.90" y1="285.05" x2="341.20" y2="285.05" stroke="#8f8f8f" stroke-width="0.6"/>
<text x="338.90" y="286.20" font-size="3.2" text-anchor="end" fill="#333" font-weight="normal" font-family='"Liberation Sans", sans-serif' >200</text>
<line x1="339.90" y1="267.50" x2="341.20" y2="267.50" stroke="#8f8f8f" stroke-width="0.6"/>
<text x="338.90" y="268.65" font-size="3.2" text-anchor="end" fill="#333" font-weight="normal" font-family='"Liberation Sans", sans-serif' >400</text>
<line x1="339.90" y1="249.95" x2="341.20" y2="249.95" stroke="#8f8f8f" stroke-width="0.6"/>
<text x="338.90" y="251.10" font-size="3.2" text-anchor="end" fill="#333" font-weight="normal" font-family='"Liberation Sans", sans-serif' >600</text>
<line x1="339.90" y1="232.40" x2="341.20" y2="232.40" stroke="#8f8f8f" stroke-width="0.6"/>
<text x="338.90" y="233.55" font-size="3.2" text-anchor="end" fill="#333" font-weight="normal" font-family='"Liberation Sans", sans-serif' >800</text>
<line x1="354.30" y1="235.30" x2="354.30" y2="248.10" stroke="#9a9a9a" stroke-width="0.6"/>
<line x1="353.20" y1="235.30" x2="355.40" y2="235.30" stroke="#9a9a9a" stroke-width="0.6"/>
<rect x="347.95" y="248.45" width="12.70" height="54.15" fill="#c5c5c5" stroke="#8a8a8a" stroke-width="0.7"/>
<polygon points="354.30,229.30 354.91,230.76 356.49,230.89 355.28,231.92 355.65,233.46 354.30,232.63 352.95,233.46 353.32,231.92 352.11,230.89 353.69,230.76" fill="#111"/>
<line x1="372.15" y1="259.00" x2="372.15" y2="270.90" stroke="#9a9a9a" stroke-width="0.6"/>
<line x1="371.05" y1="259.00" x2="373.25" y2="259.00" stroke="#9a9a9a" stroke-width="0.6"/>
<rect x="365.85" y="271.25" width="12.60" height="31.35" fill="#c5c5c5" stroke="#8a8a8a" stroke-width="0.7"/>
<text transform="translate(331.15,266.41) rotate(-90)" font-size="6.49" text-anchor="middle" fill="#1a1a1a" font-family='"Liberation Sans", sans-serif'>CC1 fluorescence</text>
<text transform="translate(356.00,307.60) rotate(-41)" font-size="6.6" text-anchor="end" fill="#1a1a1a" font-family='"Liberation Sans", sans-serif'>CFSE<tspan font-size="4.75" dy="-2.4">max</tspan></text>
<text transform="translate(375.80,307.60) rotate(-41)" font-size="6.6" text-anchor="end" fill="#1a1a1a" font-family='"Liberation Sans", sans-serif'>CFSE<tspan font-size="4.75" dy="-2.4">low</tspan></text>
<line x1="405.70" y1="232.40" x2="405.70" y2="302.60" stroke="#8f8f8f" stroke-width="0.7"/>
<line x1="405.70" y1="302.60" x2="446.00" y2="302.60" stroke="#8f8f8f" stroke-width="0.7"/>
<line x1="404.40" y1="302.60" x2="405.70" y2="302.60" stroke="#8f8f8f" stroke-width="0.6"/>
<text x="403.40" y="303.75" font-size="3.2" text-anchor="end" fill="#333" font-weight="normal" font-family='"Liberation Sans", sans-serif' >0</text>
<line x1="404.40" y1="288.56" x2="405.70" y2="288.56" stroke="#8f8f8f" stroke-width="0.6"/>
<text x="403.40" y="289.71" font-size="3.2" text-anchor="end" fill="#333" font-weight="normal" font-family='"Liberation Sans", sans-serif' >500</text>
<line x1="404.40" y1="274.52" x2="405.70" y2="274.52" stroke="#8f8f8f" stroke-width="0.6"/>
<text x="403.40" y="275.67" font-size="3.2" text-anchor="end" fill="#333" font-weight="normal" font-family='"Liberation Sans", sans-serif' >1000</text>
<line x1="404.40" y1="260.48" x2="405.70" y2="260.48" stroke="#8f8f8f" stroke-width="0.6"/>
<text x="403.40" y="261.63" font-size="3.2" text-anchor="end" fill="#333" font-weight="normal" font-family='"Liberation Sans", sans-serif' >1500</text>
<line x1="404.40" y1="246.44" x2="405.70" y2="246.44" stroke="#8f8f8f" stroke-width="0.6"/>
<text x="403.40" y="247.59" font-size="3.2" text-anchor="end" fill="#333" font-weight="normal" font-family='"Liberation Sans", sans-serif' >2000</text>
<line x1="404.40" y1="232.40" x2="405.70" y2="232.40" stroke="#8f8f8f" stroke-width="0.6"/>
<text x="403.40" y="233.55" font-size="3.2" text-anchor="end" fill="#333" font-weight="normal" font-family='"Liberation Sans", sans-serif' >2500</text>
<line x1="417.80" y1="234.70" x2="417.80" y2="242.10" stroke="#9a9a9a" stroke-width="0.6"/>
<line x1="416.70" y1="234.70" x2="418.90" y2="234.70" stroke="#9a9a9a" stroke-width="0.6"/>
<rect x="411.15" y="242.45" width="13.30" height="60.15" fill="#c5c5c5" stroke="#8a8a8a" stroke-width="0.7"/>
<polygon points="417.80,229.30 418.41,230.76 419.99,230.89 418.78,231.92 419.15,233.46 417.80,232.63 416.45,233.46 416.82,231.92 415.61,230.89 417.19,230.76" fill="#111"/>
<line x1="436.60" y1="253.60" x2="436.60" y2="267.00" stroke="#9a9a9a" stroke-width="0.6"/>
<line x1="435.50" y1="253.60" x2="437.70" y2="253.60" stroke="#9a9a9a" stroke-width="0.6"/>
<rect x="430.35" y="267.35" width="12.50" height="35.25" fill="#c5c5c5" stroke="#8a8a8a" stroke-width="0.7"/>
<text transform="translate(393.15,265.26) rotate(-90)" font-size="6.26" text-anchor="middle" fill="#1a1a1a" font-family='"Liberation Sans", sans-serif'>DCFDA fluorescence</text>
<text transform="translate(420.40,307.60) rotate(-41)" font-size="6.6" text-anchor="end" fill="#1a1a1a" font-family='"Liberation Sans", sans-serif'>CTV<tspan font-size="4.75" dy="-2.4">max</tspan></text>
<text transform="translate(440.90,307.60) rotate(-41)" font-size="6.6" text-anchor="end" fill="#1a1a1a" font-family='"Liberation Sans", sans-serif'>CTV<tspan font-size="4.75" dy="-2.4">low</tspan></text>
<line x1="472.40" y1="232.40" x2="472.40" y2="302.60" stroke="#8f8f8f" stroke-width="0.7"/>
<line x1="472.40" y1="302.60" x2="512.00" y2="302.60" stroke="#8f8f8f" stroke-width="0.7"/>
<line x1="471.10" y1="302.60" x2="472.40" y2="302.60" stroke="#8f8f8f" stroke-width="0.6"/>
<text x="470.10" y="303.75" font-size="3.2" text-anchor="end" fill="#333" font-weight="normal" font-family='"Liberation Sans", sans-serif' >0</text>
<line x1="471.10" y1="288.56" x2="472.40" y2="288.56" stroke="#8f8f8f" stroke-width="0.6"/>
<text x="470.10" y="289.71" font-size="3.2" text-anchor="end" fill="#333" font-weight="normal" font-family='"Liberation Sans", sans-serif' >500</text>
<line x1="471.10" y1="274.52" x2="472.40" y2="274.52" stroke="#8f8f8f" stroke-width="0.6"/>
<text x="470.10" y="275.67" font-size="3.2" text-anchor="end" fill="#333" font-weight="normal" font-family='"Liberation Sans", sans-serif' >1000</text>
<line x1="471.10" y1="260.48" x2="472.40" y2="260.48" stroke="#8f8f8f" stroke-width="0.6"/>
<text x="470.10" y="261.63" font-size="3.2" text-anchor="end" fill="#333" font-weight="normal" font-family='"Liberation Sans", sans-serif' >1500</text>
<line x1="471.10" y1="246.44" x2="472.40" y2="246.44" stroke="#8f8f8f" stroke-width="0.6"/>
<text x="470.10" y="247.59" font-size="3.2" text-anchor="end" fill="#333" font-weight="normal" font-family='"Liberation Sans", sans-serif' >2000</text>
<line x1="471.10" y1="232.40" x2="472.40" y2="232.40" stroke="#8f8f8f" stroke-width="0.6"/>
<text x="470.10" y="233.55" font-size="3.2" text-anchor="end" fill="#333" font-weight="normal" font-family='"Liberation Sans", sans-serif' >2500</text>
<line x1="485.65" y1="239.00" x2="485.65" y2="248.80" stroke="#9a9a9a" stroke-width="0.6"/>
<line x1="484.55" y1="239.00" x2="486.75" y2="239.00" stroke="#9a9a9a" stroke-width="0.6"/>
<rect x="479.65" y="249.15" width="12.00" height="53.45" fill="#c5c5c5" stroke="#8a8a8a" stroke-width="0.7"/>
<polygon points="485.65,232.40 486.26,233.86 487.84,233.99 486.63,235.02 487.00,236.56 485.65,235.73 484.30,236.56 484.67,235.02 483.46,233.99 485.04,233.86" fill="#111"/>
<line x1="503.15" y1="257.30" x2="503.15" y2="265.70" stroke="#9a9a9a" stroke-width="0.6"/>
<line x1="502.05" y1="257.30" x2="504.25" y2="257.30" stroke="#9a9a9a" stroke-width="0.6"/>
<rect x="496.55" y="266.05" width="13.20" height="36.55" fill="#c5c5c5" stroke="#8a8a8a" stroke-width="0.7"/>
<text transform="translate(459.15,266.46) rotate(-90)" font-size="6.34" text-anchor="middle" fill="#1a1a1a" font-family='"Liberation Sans", sans-serif'>8-oxoG fluorescence</text>
<text transform="translate(489.30,307.60) rotate(-41)" font-size="6.6" text-anchor="end" fill="#1a1a1a" font-family='"Liberation Sans", sans-serif'>CTV<tspan font-size="4.75" dy="-2.4">max</tspan></text>
<text transform="translate(509.10,307.60) rotate(-41)" font-size="6.6" text-anchor="end" fill="#1a1a1a" font-family='"Liberation Sans", sans-serif'>CTV<tspan font-size="4.75" dy="-2.4">low</tspan></text>
</svg>
</body></html>
